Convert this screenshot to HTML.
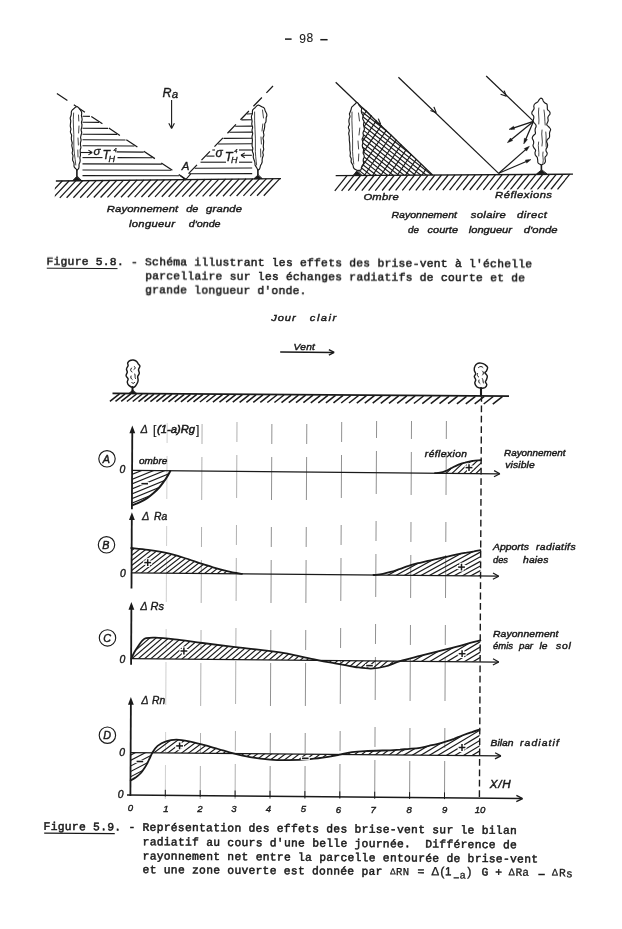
<!DOCTYPE html>
<html><head><meta charset="utf-8"><title>p98</title>
<style>html,body{margin:0;padding:0;background:#fff;}svg{display:block;filter:grayscale(1);}text{white-space:pre;}</style>
</head><body>
<svg width="622" height="929" viewBox="0 0 622 929">
<rect width="622" height="929" fill="#fff"/>
<defs><clipPath id="cgl"><rect x="54.8" y="170" width="240" height="40"/></clipPath>
<clipPath id="cshadow"><path d="M362.5 106.5L432.6 175L359 175.4Z"/></clipPath>
<clipPath id="cA"><path d="M132.2 505.3C133.4 504.8 137.0 503.6 139.5 502.4C142.0 501.2 144.8 499.7 147.2 498.1C149.6 496.5 151.8 494.7 153.9 492.8C156.0 490.9 157.9 489.0 159.7 487.0C161.5 485.0 163.1 482.6 164.5 480.7C165.9 478.8 166.9 477.0 167.9 475.4C168.9 473.8 169.9 471.7 170.3 471.0L170.3 470.8L132.0 470.4Z"/></clipPath>
<clipPath id="cR"><path d="M435.0 473.2C435.8 473.1 438.2 473.1 440.0 472.7C441.8 472.4 443.5 471.9 445.5 471.1C447.5 470.3 449.9 468.8 452.0 467.8C454.1 466.7 455.8 465.7 458.0 464.8C460.2 463.9 462.5 463.2 465.0 462.6C467.5 461.9 470.3 461.4 473.0 460.9C475.7 460.5 479.7 460.3 481.0 460.1L481.0 473.6L435.0 473.2Z"/></clipPath>
<clipPath id="cB"><path d="M131.2 548.0C134.0 548.3 142.2 549.0 148.0 549.8C153.8 550.6 160.4 551.6 166.2 552.9C172.0 554.2 177.0 555.7 183.0 557.5C189.0 559.3 197.2 562.2 202.2 563.8C207.2 565.4 209.2 566.2 213.0 567.3C216.8 568.4 221.5 569.7 225.0 570.6C228.5 571.5 231.2 572.2 234.0 572.7C236.8 573.2 240.7 573.6 242.0 573.8L131.2 572.8Z"/></clipPath>
<clipPath id="cB2"><path d="M373.5 575.0C375.1 574.8 379.9 574.5 383.0 573.9C386.1 573.3 389.2 572.4 392.0 571.6C394.8 570.8 397.2 569.8 400.0 568.9C402.8 567.9 405.6 566.7 408.6 565.8C411.6 564.8 414.8 564.0 418.0 563.2C421.2 562.4 424.7 561.7 427.9 560.9C431.1 560.2 434.0 559.5 437.0 558.8C440.0 558.1 442.6 557.6 445.8 556.9C449.0 556.2 452.6 555.4 456.0 554.7C459.4 554.0 463.5 553.2 466.5 552.7C469.5 552.1 471.7 551.8 474.0 551.4C476.3 550.9 479.3 550.4 480.4 550.2L480.4 576.0L373.5 575.0Z"/></clipPath>
<clipPath id="cCl"><rect x="120" y="620" width="279.5" height="60"/></clipPath>
<clipPath id="cCr"><rect x="399.5" y="620" width="100" height="60"/></clipPath>
<clipPath id="cC"><path d="M131.3 658.6C131.8 657.5 133.3 654.2 134.5 652.0C135.7 649.8 137.4 647.4 138.7 645.5C140.0 643.6 141.1 641.8 142.3 640.6C143.6 639.4 144.0 638.7 146.2 638.2C148.4 637.7 150.5 637.4 155.3 637.6C160.1 637.8 166.9 638.5 174.8 639.4C182.7 640.3 191.6 641.6 202.5 643.0C213.4 644.3 227.1 646.0 240.0 647.6C252.9 649.2 270.0 650.9 280.0 652.4C290.0 653.8 293.6 655.0 300.0 656.4C306.4 657.7 312.8 659.2 318.6 660.3C324.4 661.5 328.9 662.2 335.0 663.3C341.1 664.4 349.0 666.1 355.0 667.0C361.0 667.8 366.0 668.7 371.0 668.6C376.0 668.5 380.2 667.8 385.0 666.5C389.8 665.3 394.2 662.9 400.0 661.1C405.8 659.3 413.3 657.6 420.0 655.9C426.7 654.2 433.3 652.5 440.0 650.8C446.7 649.2 453.3 647.6 460.0 645.8C466.7 644.1 477.0 641.2 480.4 640.3L480.4 661.8L131.3 658.6Z"/></clipPath>
<clipPath id="cC2"><path d="M131.3 658.6C131.8 657.5 133.3 654.2 134.5 652.0C135.7 649.8 137.4 647.4 138.7 645.5C140.0 643.6 141.1 641.8 142.3 640.6C143.6 639.4 144.0 638.7 146.2 638.2C148.4 637.7 150.5 637.4 155.3 637.6C160.1 637.8 166.9 638.5 174.8 639.4C182.7 640.3 191.6 641.6 202.5 643.0C213.4 644.3 227.1 646.0 240.0 647.6C252.9 649.2 270.0 650.9 280.0 652.4C290.0 653.8 293.6 655.0 300.0 656.4C306.4 657.7 312.8 659.2 318.6 660.3C324.4 661.5 328.9 662.2 335.0 663.3C341.1 664.4 349.0 666.1 355.0 667.0C361.0 667.8 366.0 668.7 371.0 668.6C376.0 668.5 380.2 667.8 385.0 666.5C389.8 665.3 394.2 662.9 400.0 661.1C405.8 659.3 413.3 657.6 420.0 655.9C426.7 654.2 433.3 652.5 440.0 650.8C446.7 649.2 453.3 647.6 460.0 645.8C466.7 644.1 477.0 641.2 480.4 640.3L480.4 661.8L131.3 658.6Z"/></clipPath>
<clipPath id="cDn"><path d="M130.7 780.5C131.6 780.0 134.3 778.5 136.0 777.3C137.7 776.0 139.5 774.5 140.9 773.0C142.3 771.5 143.4 769.6 144.5 768.0C145.6 766.4 146.3 765.1 147.2 763.5C148.0 761.9 148.7 760.3 149.6 758.5C150.5 756.7 151.9 753.7 152.4 752.7L130.7 752.5Z"/></clipPath>
<clipPath id="cDl"><rect x="120" y="700" width="282" height="80"/></clipPath>
<clipPath id="cDr"><rect x="402" y="700" width="100" height="80"/></clipPath>
<clipPath id="cD"><path d="M152.4 752.7C153.3 751.6 155.3 747.8 157.6 745.9C159.9 744.0 162.9 742.3 166.0 741.3C169.1 740.2 172.6 739.6 176.4 739.6C180.2 739.6 184.5 740.4 189.0 741.3C193.5 742.2 198.7 743.6 203.6 744.9C208.5 746.2 213.2 747.6 218.2 749.0C223.2 750.4 228.2 752.1 233.5 753.4C238.8 754.8 243.9 756.1 250.0 757.1C256.1 758.1 263.6 759.1 270.0 759.6C276.4 760.1 281.8 760.2 288.5 760.1C295.2 760.1 303.4 759.7 310.0 759.1C316.6 758.6 322.8 757.7 328.0 756.9C333.2 756.1 337.0 755.2 341.0 754.4C345.0 753.6 348.0 752.7 352.0 752.1C356.0 751.6 358.7 751.4 365.0 751.1C371.3 750.7 384.2 750.5 390.0 750.3C395.8 750.0 396.8 749.8 400.0 749.6C403.2 749.3 406.1 749.2 409.4 748.9C412.7 748.6 416.7 748.3 420.0 747.8C423.3 747.3 426.2 746.4 429.0 745.8C431.8 745.2 434.2 744.8 437.0 744.1C439.8 743.4 442.8 742.6 445.6 741.7C448.4 740.8 451.2 739.9 454.0 738.9C456.8 737.8 459.4 736.6 462.2 735.5C465.0 734.5 468.1 733.4 471.0 732.4C473.9 731.5 478.1 730.2 479.5 729.7L480.0 755.7L152.4 752.7Z"/></clipPath>
<clipPath id="cD2"><path d="M152.4 752.7C153.3 751.6 155.3 747.8 157.6 745.9C159.9 744.0 162.9 742.3 166.0 741.3C169.1 740.2 172.6 739.6 176.4 739.6C180.2 739.6 184.5 740.4 189.0 741.3C193.5 742.2 198.7 743.6 203.6 744.9C208.5 746.2 213.2 747.6 218.2 749.0C223.2 750.4 228.2 752.1 233.5 753.4C238.8 754.8 243.9 756.1 250.0 757.1C256.1 758.1 263.6 759.1 270.0 759.6C276.4 760.1 281.8 760.2 288.5 760.1C295.2 760.1 303.4 759.7 310.0 759.1C316.6 758.6 322.8 757.7 328.0 756.9C333.2 756.1 337.0 755.2 341.0 754.4C345.0 753.6 348.0 752.7 352.0 752.1C356.0 751.6 358.7 751.4 365.0 751.1C371.3 750.7 384.2 750.5 390.0 750.3C395.8 750.0 396.8 749.8 400.0 749.6C403.2 749.3 406.1 749.2 409.4 748.9C412.7 748.6 416.7 748.3 420.0 747.8C423.3 747.3 426.2 746.4 429.0 745.8C431.8 745.2 434.2 744.8 437.0 744.1C439.8 743.4 442.8 742.6 445.6 741.7C448.4 740.8 451.2 739.9 454.0 738.9C456.8 737.8 459.4 736.6 462.2 735.5C465.0 734.5 468.1 733.4 471.0 732.4C473.9 731.5 478.1 730.2 479.5 729.7L480.0 755.7L152.4 752.7Z"/></clipPath></defs>
<g opacity="0.999">
<line x1="285.0" y1="39.1" x2="291.6" y2="39.1" stroke="#1a1a1a" stroke-width="1.50" />
<line x1="320.3" y1="39.7" x2="327.6" y2="39.7" stroke="#1a1a1a" stroke-width="1.50" />
<text x="299.2" y="43.2" style="font-family:'Liberation Sans',sans-serif;font-size:12.00px;font-weight:normal" fill="#1a1a1a" stroke="#1a1a1a" stroke-width="0.10" >9</text>
<text x="306.6" y="41.8" style="font-family:'Liberation Sans',sans-serif;font-size:12.00px;font-weight:normal" fill="#1a1a1a" stroke="#1a1a1a" stroke-width="0.10" >8</text>
<line x1="55.9" y1="181.0" x2="281.0" y2="178.6" stroke="#1a1a1a" stroke-width="1.40" />
<g clip-path="url(#cgl)">
<line x1="62.4" y1="180.7" x2="46.2" y2="198.0" stroke="#1a1a1a" stroke-width="1.25" />
<line x1="69.2" y1="180.7" x2="53.0" y2="198.0" stroke="#1a1a1a" stroke-width="1.25" />
<line x1="76.0" y1="180.6" x2="59.8" y2="197.9" stroke="#1a1a1a" stroke-width="1.25" />
<line x1="82.8" y1="180.5" x2="66.6" y2="197.8" stroke="#1a1a1a" stroke-width="1.25" />
<line x1="89.6" y1="180.4" x2="73.4" y2="197.7" stroke="#1a1a1a" stroke-width="1.25" />
<line x1="96.4" y1="180.4" x2="80.2" y2="197.7" stroke="#1a1a1a" stroke-width="1.25" />
<line x1="103.2" y1="180.3" x2="87.0" y2="197.6" stroke="#1a1a1a" stroke-width="1.25" />
<line x1="110.0" y1="180.2" x2="93.8" y2="197.5" stroke="#1a1a1a" stroke-width="1.25" />
<line x1="116.8" y1="180.2" x2="100.6" y2="197.5" stroke="#1a1a1a" stroke-width="1.25" />
<line x1="123.6" y1="180.1" x2="107.4" y2="197.4" stroke="#1a1a1a" stroke-width="1.25" />
<line x1="130.4" y1="180.0" x2="114.2" y2="197.3" stroke="#1a1a1a" stroke-width="1.25" />
<line x1="137.2" y1="179.9" x2="121.0" y2="197.2" stroke="#1a1a1a" stroke-width="1.25" />
<line x1="144.0" y1="179.9" x2="127.8" y2="197.2" stroke="#1a1a1a" stroke-width="1.25" />
<line x1="150.8" y1="179.8" x2="134.6" y2="197.1" stroke="#1a1a1a" stroke-width="1.25" />
<line x1="157.6" y1="179.7" x2="141.4" y2="197.0" stroke="#1a1a1a" stroke-width="1.25" />
<line x1="164.4" y1="179.7" x2="148.2" y2="197.0" stroke="#1a1a1a" stroke-width="1.25" />
<line x1="171.2" y1="179.6" x2="155.0" y2="196.9" stroke="#1a1a1a" stroke-width="1.25" />
<line x1="178.0" y1="179.5" x2="161.8" y2="196.8" stroke="#1a1a1a" stroke-width="1.25" />
<line x1="184.8" y1="179.4" x2="168.6" y2="196.7" stroke="#1a1a1a" stroke-width="1.25" />
<line x1="191.6" y1="179.4" x2="175.4" y2="196.7" stroke="#1a1a1a" stroke-width="1.25" />
<line x1="198.4" y1="179.3" x2="182.2" y2="196.6" stroke="#1a1a1a" stroke-width="1.25" />
<line x1="205.2" y1="179.2" x2="189.0" y2="196.5" stroke="#1a1a1a" stroke-width="1.25" />
<line x1="212.0" y1="179.1" x2="195.8" y2="196.4" stroke="#1a1a1a" stroke-width="1.25" />
<line x1="218.8" y1="179.1" x2="202.6" y2="196.4" stroke="#1a1a1a" stroke-width="1.25" />
<line x1="225.6" y1="179.0" x2="209.4" y2="196.3" stroke="#1a1a1a" stroke-width="1.25" />
<line x1="232.4" y1="178.9" x2="216.2" y2="196.2" stroke="#1a1a1a" stroke-width="1.25" />
<line x1="239.2" y1="178.9" x2="223.0" y2="196.2" stroke="#1a1a1a" stroke-width="1.25" />
<line x1="246.0" y1="178.8" x2="229.8" y2="196.1" stroke="#1a1a1a" stroke-width="1.25" />
<line x1="252.8" y1="178.7" x2="236.6" y2="196.0" stroke="#1a1a1a" stroke-width="1.25" />
<line x1="259.6" y1="178.6" x2="243.4" y2="195.9" stroke="#1a1a1a" stroke-width="1.25" />
<line x1="266.4" y1="178.6" x2="250.2" y2="195.9" stroke="#1a1a1a" stroke-width="1.25" />
<line x1="273.2" y1="178.5" x2="257.0" y2="195.8" stroke="#1a1a1a" stroke-width="1.25" />
<line x1="280.0" y1="178.4" x2="263.8" y2="195.7" stroke="#1a1a1a" stroke-width="1.25" />
</g>
<line x1="56.9" y1="93.6" x2="186.0" y2="179.3" stroke="#1a1a1a" stroke-width="1.25" stroke-dasharray="13.3 7.7" stroke-dashoffset="0.7"/>
<line x1="273.0" y1="86.0" x2="183.5" y2="178.8" stroke="#1a1a1a" stroke-width="1.25" stroke-dasharray="12.2 6.5" stroke-dashoffset="2.7"/>
<line x1="82.5" y1="116.2" x2="89.9" y2="116.4" stroke="#1a1a1a" stroke-width="1.10" />
<line x1="82.5" y1="122.2" x2="99.0" y2="122.4" stroke="#1a1a1a" stroke-width="1.10" />
<line x1="82.5" y1="128.2" x2="108.0" y2="128.4" stroke="#1a1a1a" stroke-width="1.10" />
<line x1="82.5" y1="134.2" x2="117.0" y2="134.4" stroke="#1a1a1a" stroke-width="1.10" />
<line x1="82.5" y1="139.8" x2="125.5" y2="140.0" stroke="#1a1a1a" stroke-width="1.10" />
<line x1="82.5" y1="145.8" x2="134.5" y2="146.0" stroke="#1a1a1a" stroke-width="1.10" />
<line x1="116.5" y1="151.9" x2="143.7" y2="152.1" stroke="#1a1a1a" stroke-width="1.10" />
<line x1="82.5" y1="157.6" x2="102.5" y2="157.6" stroke="#1a1a1a" stroke-width="1.10" />
<line x1="117.5" y1="157.6" x2="152.3" y2="157.8" stroke="#1a1a1a" stroke-width="1.10" />
<line x1="82.5" y1="163.9" x2="161.8" y2="164.1" stroke="#1a1a1a" stroke-width="1.10" />
<line x1="82.5" y1="170.0" x2="171.0" y2="170.2" stroke="#1a1a1a" stroke-width="1.10" />
<line x1="82.5" y1="175.6" x2="179.4" y2="175.8" stroke="#1a1a1a" stroke-width="1.10" />
<line x1="247.0" y1="114.0" x2="252.2" y2="113.8" stroke="#1a1a1a" stroke-width="1.10" />
<line x1="241.4" y1="119.9" x2="252.2" y2="119.7" stroke="#1a1a1a" stroke-width="1.10" />
<line x1="235.2" y1="126.3" x2="252.2" y2="126.1" stroke="#1a1a1a" stroke-width="1.10" />
<line x1="229.4" y1="132.3" x2="252.2" y2="132.1" stroke="#1a1a1a" stroke-width="1.10" />
<line x1="223.5" y1="138.4" x2="252.2" y2="138.2" stroke="#1a1a1a" stroke-width="1.10" />
<line x1="218.1" y1="144.0" x2="252.2" y2="143.8" stroke="#1a1a1a" stroke-width="1.10" />
<line x1="212.3" y1="150.0" x2="215.0" y2="150.0" stroke="#1a1a1a" stroke-width="1.10" />
<line x1="239.0" y1="150.0" x2="252.2" y2="150.0" stroke="#1a1a1a" stroke-width="1.10" />
<line x1="206.4" y1="156.1" x2="214.5" y2="156.1" stroke="#1a1a1a" stroke-width="1.10" />
<line x1="200.5" y1="162.2" x2="226.0" y2="162.2" stroke="#1a1a1a" stroke-width="1.10" />
<line x1="239.0" y1="162.2" x2="252.2" y2="162.2" stroke="#1a1a1a" stroke-width="1.10" />
<line x1="194.7" y1="168.2" x2="252.2" y2="168.0" stroke="#1a1a1a" stroke-width="1.10" />
<line x1="189.3" y1="173.8" x2="252.2" y2="173.6" stroke="#1a1a1a" stroke-width="1.10" />
<path d="M180.5 175.8L185.5 179.8L190.5 174.2" fill="none" stroke="#1a1a1a" stroke-width="1.10" stroke-linejoin="round" stroke-linecap="round" />
<path d="M77.0 169.9C76.8 169.8 76.8 169.7 76.6 169.5C76.4 169.3 76.0 169.0 75.7 168.7C75.4 168.4 74.9 168.0 74.7 167.6C74.4 167.2 74.1 166.6 74.0 166.1C73.9 165.5 74.1 164.9 74.1 164.3C74.0 163.6 73.9 163.0 73.7 162.3C73.5 161.7 72.8 161.0 72.7 160.3C72.5 159.6 72.7 158.8 72.7 158.0C72.8 157.2 73.1 156.4 73.0 155.6C72.9 154.8 72.2 154.0 72.2 153.1C72.1 152.3 72.6 151.4 72.7 150.5C72.7 149.7 72.4 148.8 72.3 148.0C72.1 147.2 71.8 146.4 71.8 145.6C71.7 144.8 72.2 143.9 72.2 143.1C72.2 142.3 71.7 141.5 71.6 140.6C71.4 139.8 71.3 138.9 71.3 138.0C71.3 137.1 71.7 136.1 71.6 135.1C71.4 134.1 70.5 133.1 70.4 132.0C70.3 131.0 70.9 129.9 70.9 128.9C70.8 127.9 70.3 126.9 70.3 126.0C70.2 125.1 70.5 124.2 70.5 123.3C70.6 122.4 70.8 121.5 70.7 120.6C70.6 119.8 70.2 118.9 70.2 118.1C70.2 117.4 70.7 116.7 70.9 116.0C71.1 115.3 71.2 114.8 71.3 114.2C71.4 113.6 71.3 113.0 71.3 112.5C71.4 112.0 71.4 111.5 71.6 111.0C71.8 110.6 72.1 110.3 72.4 109.9C72.7 109.6 73.0 109.4 73.3 109.1C73.6 108.9 73.8 108.7 74.1 108.5C74.3 108.2 74.5 108.0 74.8 107.8C75.0 107.6 75.2 107.4 75.5 107.2C75.7 107.1 76.0 106.9 76.4 106.8C76.7 106.8 77.1 106.7 77.4 106.8C77.7 106.9 78.0 107.2 78.2 107.4C78.5 107.6 78.7 107.9 78.9 108.1C79.1 108.3 79.2 108.6 79.4 108.9C79.6 109.2 79.9 109.4 80.1 109.7C80.3 109.9 80.5 110.3 80.7 110.7C81.0 111.0 81.3 111.4 81.5 111.9C81.6 112.4 81.7 113.0 81.7 113.7C81.7 114.3 81.4 115.0 81.4 115.6C81.4 116.3 81.8 117.0 81.9 117.8C82.0 118.5 82.2 119.2 82.1 120.0C82.0 120.8 81.5 121.5 81.5 122.3C81.4 123.2 81.9 124.0 81.9 124.9C82.0 125.7 81.8 126.6 81.7 127.5C81.6 128.3 81.1 129.1 81.1 130.0C81.1 130.8 81.7 131.7 81.7 132.5C81.7 133.4 81.3 134.2 81.1 135.0C80.9 135.8 80.6 136.6 80.6 137.5C80.6 138.3 81.1 139.2 81.1 140.0C81.1 140.9 80.6 141.7 80.5 142.5C80.4 143.3 80.4 144.2 80.5 145.0C80.5 145.8 81.0 146.7 80.9 147.5C80.9 148.3 80.3 149.1 80.2 150.0C80.1 150.8 80.3 151.7 80.3 152.6C80.4 153.4 80.5 154.3 80.5 155.2C80.4 156.0 79.9 156.9 79.9 157.7C79.8 158.5 80.2 159.3 80.2 160.0C80.2 160.7 80.1 161.4 79.9 162.1C79.8 162.7 79.3 163.3 79.2 163.9C79.0 164.4 79.0 165.0 79.0 165.5C79.0 166.1 79.1 166.6 79.0 167.1C79.0 167.5 78.9 168.0 78.7 168.4C78.5 168.7 78.2 169.1 78.0 169.3C77.7 169.6 77.5 169.8 77.3 169.9C77.1 170.0 77.1 169.9 77.0 169.9Z" fill="#fff" stroke="#1a1a1a" stroke-width="1.15" stroke-linejoin="round" stroke-linecap="round" />
<path d="M73.6 113C72.6 122 74.2 132 73.8 142C73.4 150 75.2 158 75.8 165" fill="none" stroke="#1a1a1a" stroke-width="0.80" stroke-linejoin="round" stroke-linecap="round" />
<path d="M78.5 115L78.8 121M79 126L78.6 133M78 138L78.4 145M77.8 150L78 157" fill="none" stroke="#1a1a1a" stroke-width="0.80" stroke-linejoin="round" stroke-linecap="round" />
<path d="M76.9 170L76.9 176" fill="none" stroke="#1a1a1a" stroke-width="1.60" stroke-linejoin="round" stroke-linecap="round" />
<path d="M76.9 176.3L72.9 180.4L80.9 180.3Z" fill="#1a1a1a" stroke="#1a1a1a" stroke-width="0.90" stroke-linejoin="round" stroke-linecap="round" />
<path d="M257.9 169.8C257.6 169.6 257.5 169.2 257.2 168.7C256.9 168.3 256.6 167.7 256.3 167.1C255.9 166.4 255.3 165.7 255.1 165.0C254.9 164.2 255.1 163.3 254.9 162.4C254.8 161.6 254.4 160.9 254.1 160.0C253.8 159.1 253.4 158.2 253.3 157.2C253.2 156.2 253.5 155.1 253.4 154.1C253.2 153.2 252.5 152.2 252.4 151.3C252.3 150.4 252.9 149.4 252.8 148.5C252.8 147.5 252.2 146.7 252.1 145.8C252.1 144.8 252.2 143.9 252.2 142.9C252.3 142.0 252.5 141.0 252.4 140.0C252.4 139.0 252.0 137.9 252.0 136.9C252.0 135.8 252.7 134.7 252.7 133.6C252.7 132.5 252.0 131.4 252.0 130.3C252.0 129.2 252.7 128.2 252.6 127.1C252.6 126.1 251.8 125.2 251.8 124.2C251.7 123.2 252.1 122.1 252.1 121.2C252.0 120.2 251.7 119.3 251.6 118.4C251.4 117.5 251.3 116.6 251.5 115.9C251.6 115.1 252.2 114.5 252.4 113.8C252.5 113.1 252.4 112.4 252.4 111.8C252.5 111.1 252.5 110.5 252.7 109.9C253.0 109.4 253.5 109.1 253.9 108.7C254.3 108.3 254.7 108.0 255.1 107.7C255.5 107.3 255.8 106.9 256.1 106.5C256.5 106.1 256.8 105.6 257.2 105.4C257.7 105.1 258.2 105.0 258.7 105.1C259.2 105.2 259.6 105.6 260.1 105.8C260.5 106.1 261.0 106.4 261.5 106.6C262.1 106.9 262.7 107.0 263.2 107.3C263.7 107.6 264.2 108.0 264.5 108.5C264.8 109.0 264.8 109.7 265.0 110.3C265.3 110.9 265.5 111.4 265.8 112.0C266.1 112.6 266.5 113.3 266.7 113.9C266.8 114.5 266.9 115.3 266.8 115.9C266.7 116.5 266.3 117.1 266.2 117.7C266.1 118.3 266.1 119.0 266.1 119.6C266.0 120.3 266.1 121.0 265.9 121.8C265.7 122.5 265.0 123.1 264.8 123.9C264.6 124.7 264.8 125.6 264.7 126.5C264.6 127.5 264.5 128.4 264.2 129.4C264.0 130.3 263.5 131.3 263.4 132.3C263.4 133.2 264.0 134.3 263.9 135.2C263.9 136.2 263.1 137.1 263.0 138.0C263.0 138.9 263.5 139.9 263.6 140.8C263.7 141.8 263.6 142.7 263.5 143.6C263.5 144.6 263.3 145.5 263.3 146.4C263.3 147.4 263.8 148.4 263.7 149.4C263.6 150.3 262.9 151.3 262.8 152.2C262.7 153.2 263.3 154.2 263.3 155.1C263.3 156.0 262.7 156.9 262.5 157.7C262.3 158.5 262.2 159.2 262.1 160.0C262.1 160.8 262.3 161.6 262.1 162.2C262.0 162.9 261.6 163.5 261.3 164.1C261.0 164.6 260.7 165.1 260.5 165.6C260.3 166.2 260.2 166.7 260.1 167.3C260.0 167.8 259.8 168.4 259.6 168.8C259.4 169.3 259.0 169.6 258.7 169.8C258.5 169.9 258.1 169.9 257.9 169.8Z" fill="#fff" stroke="#1a1a1a" stroke-width="1.15" stroke-linejoin="round" stroke-linecap="round" />
<path d="M254.6 112C254.2 124 255.8 136 255.4 146C255 154 256.2 160 256.6 165" fill="none" stroke="#1a1a1a" stroke-width="0.80" stroke-linejoin="round" stroke-linecap="round" />
<path d="M262.5 110L263.5 118M262.8 124L262 131M261 137L261.4 144M260.6 149L260.8 157" fill="none" stroke="#1a1a1a" stroke-width="0.80" stroke-linejoin="round" stroke-linecap="round" />
<path d="M257.9 169.8L257.9 175" fill="none" stroke="#1a1a1a" stroke-width="1.60" stroke-linejoin="round" stroke-linecap="round" />
<path d="M257.9 175L254 178.7L261.9 178.6Z" fill="#1a1a1a" stroke="#1a1a1a" stroke-width="0.90" stroke-linejoin="round" stroke-linecap="round" />
<text x="162.5" y="96.6" style="font-family:'Liberation Sans',sans-serif;font-size:12.50px;font-style:italic;font-weight:normal" fill="#1a1a1a" stroke="#1a1a1a" stroke-width="0.35" >R</text>
<text x="171.8" y="98.2" style="font-family:'Liberation Sans',sans-serif;font-size:11.50px;font-style:italic;font-weight:normal" fill="#1a1a1a" stroke="#1a1a1a" stroke-width="0.35" >a</text>
<line x1="171.6" y1="100.0" x2="171.6" y2="128.0" stroke="#1a1a1a" stroke-width="1.10" />
<line x1="171.6" y1="128.5" x2="168.8" y2="123.2" stroke="#1a1a1a" stroke-width="1.10" />
<line x1="171.6" y1="128.5" x2="174.4" y2="123.2" stroke="#1a1a1a" stroke-width="1.10" />
<line x1="80.5" y1="152.5" x2="91.5" y2="152.5" stroke="#1a1a1a" stroke-width="1.10" />
<line x1="92.2" y1="152.5" x2="88.4" y2="154.9" stroke="#1a1a1a" stroke-width="1.10" />
<line x1="92.2" y1="152.5" x2="88.4" y2="150.1" stroke="#1a1a1a" stroke-width="1.10" />
<text x="93.5" y="154.9" style="font-family:'Liberation Sans',sans-serif;font-size:11.50px;font-style:italic;font-weight:normal" fill="#1a1a1a" stroke="#1a1a1a" stroke-width="0.35" >σ</text>
<text x="102.5" y="158.6" style="font-family:'Liberation Sans',sans-serif;font-size:12.20px;font-style:italic;font-weight:normal" fill="#1a1a1a" stroke="#1a1a1a" stroke-width="0.35" >T</text>
<text x="108.6" y="162.0" style="font-family:'Liberation Sans',sans-serif;font-size:9.00px;font-style:italic;font-weight:normal" fill="#1a1a1a" stroke="#1a1a1a" stroke-width="0.30" >H</text>
<text x="113.4" y="151.6" style="font-family:'Liberation Sans',sans-serif;font-size:5.80px;font-style:italic;font-weight:normal" fill="#1a1a1a" stroke="#1a1a1a" stroke-width="0.25" >4</text>
<text x="215.5" y="157.0" style="font-family:'Liberation Sans',sans-serif;font-size:12.00px;font-style:italic;font-weight:normal" fill="#1a1a1a" stroke="#1a1a1a" stroke-width="0.35" >σ</text>
<text x="224.8" y="160.8" style="font-family:'Liberation Sans',sans-serif;font-size:12.80px;font-style:italic;font-weight:normal" fill="#1a1a1a" stroke="#1a1a1a" stroke-width="0.35" >T</text>
<text x="231.0" y="163.4" style="font-family:'Liberation Sans',sans-serif;font-size:9.00px;font-style:italic;font-weight:normal" fill="#1a1a1a" stroke="#1a1a1a" stroke-width="0.30" >H</text>
<text x="234.2" y="153.3" style="font-family:'Liberation Sans',sans-serif;font-size:5.80px;font-style:italic;font-weight:normal" fill="#1a1a1a" stroke="#1a1a1a" stroke-width="0.25" >4</text>
<line x1="241.5" y1="155.3" x2="251.8" y2="155.3" stroke="#1a1a1a" stroke-width="1.10" />
<line x1="241.0" y1="155.3" x2="244.8" y2="152.9" stroke="#1a1a1a" stroke-width="1.10" />
<line x1="241.0" y1="155.3" x2="244.8" y2="157.7" stroke="#1a1a1a" stroke-width="1.10" />
<text x="181.8" y="170.0" style="font-family:'Liberation Sans',sans-serif;font-size:11.50px;font-style:italic;font-weight:normal" fill="#1a1a1a" stroke="#1a1a1a" stroke-width="0.35" >A</text>
<text x="106.8" y="211.9" style="font-family:'Liberation Sans',sans-serif;font-size:9.70px;font-style:italic;font-weight:normal;letter-spacing:0.12px" fill="#1a1a1a" textLength="71.6" lengthAdjust="spacingAndGlyphs" stroke="#1a1a1a" stroke-width="0.42" >Rayonnement</text>
<text x="186.3" y="211.9" style="font-family:'Liberation Sans',sans-serif;font-size:9.70px;font-style:italic;font-weight:normal;letter-spacing:0.00px" fill="#1a1a1a" textLength="12.1" lengthAdjust="spacingAndGlyphs" stroke="#1a1a1a" stroke-width="0.42" >de</text>
<text x="206.0" y="211.9" style="font-family:'Liberation Sans',sans-serif;font-size:9.70px;font-style:italic;font-weight:normal;letter-spacing:0.18px" fill="#1a1a1a" textLength="36.3" lengthAdjust="spacingAndGlyphs" stroke="#1a1a1a" stroke-width="0.42" >grande</text>
<text x="129.0" y="226.8" style="font-family:'Liberation Sans',sans-serif;font-size:9.70px;font-style:italic;font-weight:normal;letter-spacing:0.26px" fill="#1a1a1a" textLength="46.2" lengthAdjust="spacingAndGlyphs" stroke="#1a1a1a" stroke-width="0.42" >longueur</text>
<text x="188.7" y="226.8" style="font-family:'Liberation Sans',sans-serif;font-size:9.70px;font-style:italic;font-weight:normal;letter-spacing:0.00px" fill="#1a1a1a" textLength="31.9" lengthAdjust="spacingAndGlyphs" stroke="#1a1a1a" stroke-width="0.42" >d'onde</text>
<line x1="335.7" y1="175.7" x2="573.0" y2="174.2" stroke="#1a1a1a" stroke-width="1.30" />
<line x1="347.0" y1="175.6" x2="334.8" y2="190.8" stroke="#1a1a1a" stroke-width="1.25" />
<line x1="353.8" y1="175.6" x2="341.6" y2="190.8" stroke="#1a1a1a" stroke-width="1.25" />
<line x1="360.5" y1="175.5" x2="348.3" y2="190.7" stroke="#1a1a1a" stroke-width="1.25" />
<line x1="367.2" y1="175.5" x2="355.1" y2="190.7" stroke="#1a1a1a" stroke-width="1.25" />
<line x1="374.0" y1="175.5" x2="361.8" y2="190.7" stroke="#1a1a1a" stroke-width="1.25" />
<line x1="380.8" y1="175.4" x2="368.6" y2="190.6" stroke="#1a1a1a" stroke-width="1.25" />
<line x1="387.5" y1="175.4" x2="375.3" y2="190.6" stroke="#1a1a1a" stroke-width="1.25" />
<line x1="394.2" y1="175.3" x2="382.1" y2="190.5" stroke="#1a1a1a" stroke-width="1.25" />
<line x1="401.0" y1="175.3" x2="388.8" y2="190.5" stroke="#1a1a1a" stroke-width="1.25" />
<line x1="407.8" y1="175.2" x2="395.6" y2="190.4" stroke="#1a1a1a" stroke-width="1.25" />
<line x1="414.5" y1="175.2" x2="402.3" y2="190.4" stroke="#1a1a1a" stroke-width="1.25" />
<line x1="421.2" y1="175.2" x2="409.1" y2="190.4" stroke="#1a1a1a" stroke-width="1.25" />
<line x1="428.0" y1="175.1" x2="415.8" y2="190.3" stroke="#1a1a1a" stroke-width="1.25" />
<line x1="434.8" y1="175.1" x2="422.6" y2="190.3" stroke="#1a1a1a" stroke-width="1.25" />
<line x1="441.5" y1="175.0" x2="429.3" y2="190.2" stroke="#1a1a1a" stroke-width="1.25" />
<line x1="448.2" y1="175.0" x2="436.1" y2="190.2" stroke="#1a1a1a" stroke-width="1.25" />
<line x1="455.0" y1="174.9" x2="442.8" y2="190.1" stroke="#1a1a1a" stroke-width="1.25" />
<line x1="461.8" y1="174.9" x2="449.6" y2="190.1" stroke="#1a1a1a" stroke-width="1.25" />
<line x1="468.5" y1="174.9" x2="456.3" y2="190.1" stroke="#1a1a1a" stroke-width="1.25" />
<line x1="475.2" y1="174.8" x2="463.1" y2="190.0" stroke="#1a1a1a" stroke-width="1.25" />
<line x1="482.0" y1="174.8" x2="469.8" y2="190.0" stroke="#1a1a1a" stroke-width="1.25" />
<line x1="488.8" y1="174.7" x2="476.6" y2="189.9" stroke="#1a1a1a" stroke-width="1.25" />
<line x1="495.5" y1="174.7" x2="483.3" y2="189.9" stroke="#1a1a1a" stroke-width="1.25" />
<line x1="502.2" y1="174.7" x2="490.1" y2="189.9" stroke="#1a1a1a" stroke-width="1.25" />
<line x1="509.0" y1="174.6" x2="496.8" y2="189.8" stroke="#1a1a1a" stroke-width="1.25" />
<line x1="515.8" y1="174.6" x2="503.6" y2="189.8" stroke="#1a1a1a" stroke-width="1.25" />
<line x1="522.5" y1="174.5" x2="510.3" y2="189.7" stroke="#1a1a1a" stroke-width="1.25" />
<line x1="529.2" y1="174.5" x2="517.0" y2="189.7" stroke="#1a1a1a" stroke-width="1.25" />
<line x1="536.0" y1="174.4" x2="523.8" y2="189.6" stroke="#1a1a1a" stroke-width="1.25" />
<line x1="542.8" y1="174.4" x2="530.5" y2="189.6" stroke="#1a1a1a" stroke-width="1.25" />
<line x1="549.5" y1="174.4" x2="537.3" y2="189.6" stroke="#1a1a1a" stroke-width="1.25" />
<line x1="556.2" y1="174.3" x2="544.0" y2="189.5" stroke="#1a1a1a" stroke-width="1.25" />
<line x1="563.0" y1="174.3" x2="550.8" y2="189.5" stroke="#1a1a1a" stroke-width="1.25" />
<line x1="569.8" y1="174.2" x2="557.5" y2="189.4" stroke="#1a1a1a" stroke-width="1.25" />
<rect x="361" y="191.5" width="40" height="10" fill="#fff"/>
<rect x="493" y="189.5" width="61" height="10" fill="#fff"/>
<line x1="335.7" y1="82.2" x2="432.6" y2="175.0" stroke="#1a1a1a" stroke-width="1.25" />
<line x1="380.6" y1="124.3" x2="374.8" y2="122.2" stroke="#1a1a1a" stroke-width="1.20" />
<line x1="380.6" y1="124.3" x2="378.3" y2="118.6" stroke="#1a1a1a" stroke-width="1.20" />
<line x1="398.4" y1="77.2" x2="498.9" y2="173.6" stroke="#1a1a1a" stroke-width="1.25" />
<line x1="436.2" y1="112.6" x2="430.4" y2="110.5" stroke="#1a1a1a" stroke-width="1.20" />
<line x1="436.2" y1="112.6" x2="433.9" y2="106.9" stroke="#1a1a1a" stroke-width="1.20" />
<line x1="486.2" y1="76.0" x2="533.6" y2="121.4" stroke="#1a1a1a" stroke-width="1.25" />
<line x1="506.4" y1="96.3" x2="500.6" y2="94.2" stroke="#1a1a1a" stroke-width="1.20" />
<line x1="506.4" y1="96.3" x2="504.1" y2="90.6" stroke="#1a1a1a" stroke-width="1.20" />
<line x1="533.4" y1="121.4" x2="510.9" y2="128.8" stroke="#1a1a1a" stroke-width="1.25" />
<path d="M509.0 129.4L513.6 126.2L514.6 129.3Z" fill="#1a1a1a" stroke="#1a1a1a" stroke-width="0.5" stroke-linejoin="round"/>
<line x1="533.4" y1="121.4" x2="508.9" y2="141.4" stroke="#1a1a1a" stroke-width="1.25" />
<path d="M507.4 142.7L510.5 138.0L512.6 140.6Z" fill="#1a1a1a" stroke="#1a1a1a" stroke-width="0.5" stroke-linejoin="round"/>
<line x1="533.4" y1="121.4" x2="524.6" y2="142.1" stroke="#1a1a1a" stroke-width="1.25" />
<path d="M523.8 143.9L524.4 138.3L527.4 139.6Z" fill="#1a1a1a" stroke="#1a1a1a" stroke-width="0.5" stroke-linejoin="round"/>
<line x1="498.8" y1="173.3" x2="527.9" y2="147.6" stroke="#1a1a1a" stroke-width="1.25" />
<path d="M529.4 146.3L526.5 151.1L524.3 148.6Z" fill="#1a1a1a" stroke="#1a1a1a" stroke-width="0.5" stroke-linejoin="round"/>
<line x1="498.8" y1="173.3" x2="529.2" y2="160.3" stroke="#1a1a1a" stroke-width="1.25" />
<path d="M531.0 159.5L526.7 163.1L525.4 160.1Z" fill="#1a1a1a" stroke="#1a1a1a" stroke-width="0.5" stroke-linejoin="round"/>
<g clip-path="url(#cshadow)">
<line x1="358.0" y1="47.8" x2="438.0" y2="110.2" stroke="#1a1a1a" stroke-width="1.15" />
<line x1="358.0" y1="52.2" x2="438.0" y2="114.6" stroke="#1a1a1a" stroke-width="1.15" />
<line x1="358.0" y1="56.5" x2="438.0" y2="118.9" stroke="#1a1a1a" stroke-width="1.15" />
<line x1="358.0" y1="60.9" x2="438.0" y2="123.2" stroke="#1a1a1a" stroke-width="1.15" />
<line x1="358.0" y1="65.2" x2="438.0" y2="127.6" stroke="#1a1a1a" stroke-width="1.15" />
<line x1="358.0" y1="69.6" x2="438.0" y2="132.0" stroke="#1a1a1a" stroke-width="1.15" />
<line x1="358.0" y1="73.9" x2="438.0" y2="136.3" stroke="#1a1a1a" stroke-width="1.15" />
<line x1="358.0" y1="78.2" x2="438.0" y2="140.7" stroke="#1a1a1a" stroke-width="1.15" />
<line x1="358.0" y1="82.6" x2="438.0" y2="145.0" stroke="#1a1a1a" stroke-width="1.15" />
<line x1="358.0" y1="87.0" x2="438.0" y2="149.4" stroke="#1a1a1a" stroke-width="1.15" />
<line x1="358.0" y1="91.3" x2="438.0" y2="153.7" stroke="#1a1a1a" stroke-width="1.15" />
<line x1="358.0" y1="95.7" x2="438.0" y2="158.1" stroke="#1a1a1a" stroke-width="1.15" />
<line x1="358.0" y1="100.0" x2="438.0" y2="162.4" stroke="#1a1a1a" stroke-width="1.15" />
<line x1="358.0" y1="104.3" x2="438.0" y2="166.8" stroke="#1a1a1a" stroke-width="1.15" />
<line x1="358.0" y1="108.7" x2="438.0" y2="171.1" stroke="#1a1a1a" stroke-width="1.15" />
<line x1="358.0" y1="113.0" x2="438.0" y2="175.4" stroke="#1a1a1a" stroke-width="1.15" />
<line x1="358.0" y1="117.4" x2="438.0" y2="179.8" stroke="#1a1a1a" stroke-width="1.15" />
<line x1="358.0" y1="121.8" x2="438.0" y2="184.2" stroke="#1a1a1a" stroke-width="1.15" />
<line x1="358.0" y1="126.1" x2="438.0" y2="188.5" stroke="#1a1a1a" stroke-width="1.15" />
<line x1="358.0" y1="130.4" x2="438.0" y2="192.8" stroke="#1a1a1a" stroke-width="1.15" />
<line x1="358.0" y1="134.8" x2="438.0" y2="197.2" stroke="#1a1a1a" stroke-width="1.15" />
<line x1="358.0" y1="139.2" x2="438.0" y2="201.6" stroke="#1a1a1a" stroke-width="1.15" />
<line x1="358.0" y1="143.5" x2="438.0" y2="205.9" stroke="#1a1a1a" stroke-width="1.15" />
<line x1="358.0" y1="147.8" x2="438.0" y2="210.2" stroke="#1a1a1a" stroke-width="1.15" />
<line x1="358.0" y1="152.2" x2="438.0" y2="214.6" stroke="#1a1a1a" stroke-width="1.15" />
<line x1="358.0" y1="156.6" x2="438.0" y2="219.0" stroke="#1a1a1a" stroke-width="1.15" />
<line x1="358.0" y1="160.9" x2="438.0" y2="223.3" stroke="#1a1a1a" stroke-width="1.15" />
<line x1="358.0" y1="165.2" x2="438.0" y2="227.7" stroke="#1a1a1a" stroke-width="1.15" />
<line x1="358.0" y1="169.6" x2="438.0" y2="232.0" stroke="#1a1a1a" stroke-width="1.15" />
<line x1="358.0" y1="173.9" x2="438.0" y2="236.3" stroke="#1a1a1a" stroke-width="1.15" />
<line x1="358.0" y1="178.3" x2="438.0" y2="240.7" stroke="#1a1a1a" stroke-width="1.15" />
<line x1="358.0" y1="182.6" x2="438.0" y2="245.0" stroke="#1a1a1a" stroke-width="1.15" />
<line x1="358.0" y1="187.0" x2="438.0" y2="249.4" stroke="#1a1a1a" stroke-width="1.15" />
<line x1="358.0" y1="191.3" x2="438.0" y2="253.8" stroke="#1a1a1a" stroke-width="1.15" />
<line x1="358.0" y1="195.7" x2="438.0" y2="258.1" stroke="#1a1a1a" stroke-width="1.15" />
<line x1="358.0" y1="200.1" x2="438.0" y2="262.5" stroke="#1a1a1a" stroke-width="1.15" />
<line x1="298.4" y1="176.0" x2="358.4" y2="86.0" stroke="#1a1a1a" stroke-width="1.15" />
<line x1="306.6" y1="176.0" x2="366.6" y2="86.0" stroke="#1a1a1a" stroke-width="1.15" />
<line x1="314.8" y1="176.0" x2="374.8" y2="86.0" stroke="#1a1a1a" stroke-width="1.15" />
<line x1="323.0" y1="176.0" x2="383.0" y2="86.0" stroke="#1a1a1a" stroke-width="1.15" />
<line x1="331.2" y1="176.0" x2="391.2" y2="86.0" stroke="#1a1a1a" stroke-width="1.15" />
<line x1="339.4" y1="176.0" x2="399.4" y2="86.0" stroke="#1a1a1a" stroke-width="1.15" />
<line x1="347.6" y1="176.0" x2="407.6" y2="86.0" stroke="#1a1a1a" stroke-width="1.15" />
<line x1="355.8" y1="176.0" x2="415.8" y2="86.0" stroke="#1a1a1a" stroke-width="1.15" />
<line x1="364.0" y1="176.0" x2="424.0" y2="86.0" stroke="#1a1a1a" stroke-width="1.15" />
<line x1="372.2" y1="176.0" x2="432.2" y2="86.0" stroke="#1a1a1a" stroke-width="1.15" />
<line x1="380.4" y1="176.0" x2="440.4" y2="86.0" stroke="#1a1a1a" stroke-width="1.15" />
<line x1="388.6" y1="176.0" x2="448.6" y2="86.0" stroke="#1a1a1a" stroke-width="1.15" />
<line x1="396.8" y1="176.0" x2="456.8" y2="86.0" stroke="#1a1a1a" stroke-width="1.15" />
<line x1="405.0" y1="176.0" x2="465.0" y2="86.0" stroke="#1a1a1a" stroke-width="1.15" />
<line x1="413.2" y1="176.0" x2="473.2" y2="86.0" stroke="#1a1a1a" stroke-width="1.15" />
<line x1="421.4" y1="176.0" x2="481.4" y2="86.0" stroke="#1a1a1a" stroke-width="1.15" />
<line x1="429.6" y1="176.0" x2="489.6" y2="86.0" stroke="#1a1a1a" stroke-width="1.15" />
<line x1="437.8" y1="176.0" x2="497.8" y2="86.0" stroke="#1a1a1a" stroke-width="1.15" />
<line x1="446.0" y1="176.0" x2="506.0" y2="86.0" stroke="#1a1a1a" stroke-width="1.15" />
<line x1="454.2" y1="176.0" x2="514.2" y2="86.0" stroke="#1a1a1a" stroke-width="1.15" />
<line x1="462.4" y1="176.0" x2="522.4" y2="86.0" stroke="#1a1a1a" stroke-width="1.15" />
<line x1="470.6" y1="176.0" x2="530.6" y2="86.0" stroke="#1a1a1a" stroke-width="1.15" />
</g>
<path d="M357.1 170.2C356.8 170.0 356.4 169.9 356.0 169.7C355.6 169.5 355.0 169.4 354.6 169.0C354.2 168.6 353.8 168.1 353.5 167.6C353.3 167.0 353.3 166.3 353.1 165.6C352.9 165.0 352.4 164.4 352.1 163.8C351.7 163.1 351.3 162.3 351.1 161.5C351.0 160.7 351.4 159.7 351.3 158.8C351.1 157.9 350.3 157.1 350.1 156.1C350.0 155.2 350.4 154.1 350.4 153.1C350.3 152.0 350.0 151.0 349.9 149.9C349.8 148.8 349.9 147.6 349.9 146.5C349.8 145.4 349.8 144.3 349.7 143.2C349.6 142.1 349.4 141.1 349.3 140.0C349.2 138.9 349.4 137.8 349.3 136.7C349.2 135.6 348.7 134.5 348.7 133.5C348.7 132.4 349.4 131.4 349.3 130.4C349.3 129.3 348.4 128.4 348.4 127.4C348.4 126.4 349.3 125.5 349.4 124.6C349.5 123.6 349.0 122.7 348.9 121.8C348.9 120.9 348.9 120.0 349.1 119.1C349.3 118.2 350.0 117.4 350.0 116.6C350.1 115.7 349.4 114.8 349.4 113.9C349.5 113.1 350.1 112.4 350.3 111.6C350.6 110.9 350.9 110.3 351.1 109.5C351.3 108.8 351.3 107.9 351.7 107.2C352.1 106.5 352.9 106.0 353.5 105.5C354.0 105.0 354.6 104.6 355.0 104.1C355.4 103.7 355.6 103.1 356.0 102.9C356.5 102.7 357.1 102.6 357.5 102.8C357.9 103.1 358.1 103.7 358.5 104.2C358.8 104.6 359.0 105.2 359.3 105.7C359.7 106.2 360.2 106.6 360.6 107.1C361.0 107.6 361.6 108.1 361.7 108.8C361.8 109.4 361.3 110.3 361.3 111.1C361.3 111.9 361.6 112.7 361.9 113.4C362.2 114.2 362.9 114.9 363.0 115.8C363.1 116.7 362.5 117.7 362.7 118.7C362.8 119.6 363.8 120.5 364.0 121.5C364.1 122.5 363.5 123.6 363.5 124.6C363.6 125.5 363.9 126.3 364.1 127.2C364.2 128.0 364.5 128.7 364.4 129.4C364.3 130.1 363.7 130.7 363.5 131.3C363.3 132.0 363.0 132.5 363.0 133.2C363.0 133.8 363.4 134.6 363.4 135.2C363.4 135.9 363.2 136.6 363.0 137.2C362.8 137.9 362.2 138.5 362.1 139.2C362.1 139.8 362.5 140.6 362.6 141.2C362.7 141.9 362.8 142.5 362.8 143.2C362.8 143.9 362.4 144.6 362.3 145.3C362.3 146.0 362.4 146.6 362.6 147.3C362.8 148.0 363.4 148.6 363.6 149.2C363.7 149.9 363.4 150.6 363.4 151.3C363.3 152.0 363.0 152.7 363.2 153.3C363.3 154.0 364.0 154.7 364.1 155.3C364.3 156.0 364.2 156.7 364.1 157.4C363.9 158.0 363.4 158.6 363.3 159.3C363.2 159.9 363.2 160.5 363.3 161.2C363.3 161.9 363.7 162.7 363.6 163.3C363.4 164.0 362.9 164.5 362.6 165.0C362.3 165.5 362.0 166.0 361.8 166.4C361.6 166.8 361.5 167.2 361.4 167.5C361.3 167.9 361.4 168.3 361.4 168.6C361.3 169.0 361.2 169.3 361.0 169.5C360.9 169.8 360.7 170.1 360.4 170.2C360.2 170.3 359.8 170.3 359.5 170.4C359.1 170.4 358.8 170.4 358.5 170.4C358.2 170.4 358.0 170.6 357.8 170.5C357.5 170.5 357.4 170.3 357.1 170.2Z" fill="#fff" stroke="#1a1a1a" stroke-width="1.15" stroke-linejoin="round" stroke-linecap="round" />
<path d="M352 112C351.4 124 353 136 352.6 146C352.2 154 353.4 160 353.8 164" fill="none" stroke="#1a1a1a" stroke-width="0.80" stroke-linejoin="round" stroke-linecap="round" />
<path d="M358.5 113L359.5 121M359.8 128L359 135M358 141L358.6 149M358.8 154L358.4 161" fill="none" stroke="#1a1a1a" stroke-width="0.80" stroke-linejoin="round" stroke-linecap="round" />
<path d="M356.9 170.8L353.6 174.9L361 174.8Z" fill="#1a1a1a" stroke="#1a1a1a" stroke-width="0.90" stroke-linejoin="round" stroke-linecap="round" />
<path d="M541.6 165.0C541.3 165.0 541.1 164.7 540.5 164.4C539.9 164.1 538.6 163.7 538.1 163.0C537.6 162.3 537.8 160.9 537.7 160.0C537.5 159.0 537.5 158.1 537.2 157.3C536.8 156.5 535.8 156.1 535.4 155.3C535.1 154.6 535.0 153.7 535.0 152.8C535.0 152.0 535.7 151.0 535.6 150.2C535.4 149.3 534.4 148.7 534.0 147.9C533.5 147.2 533.1 146.4 533.0 145.6C533.0 144.8 533.6 143.8 533.7 143.0C533.7 142.2 533.7 141.4 533.4 140.6C533.2 139.8 532.2 139.0 532.2 138.1C532.2 137.3 532.8 136.4 533.3 135.7C533.8 134.9 535.1 134.4 535.4 133.6C535.7 132.7 535.1 131.5 535.1 130.7C535.1 129.9 535.1 129.2 535.3 128.5C535.5 127.9 536.0 127.3 536.1 126.7C536.2 126.1 536.1 125.5 535.9 125.0C535.7 124.5 535.3 124.2 535.0 123.7C534.6 123.2 534.0 122.8 533.7 122.3C533.4 121.7 533.2 121.1 533.2 120.4C533.3 119.7 533.8 118.8 533.8 118.1C533.9 117.4 533.9 116.7 533.6 116.0C533.3 115.4 532.2 114.8 532.0 114.1C531.7 113.5 531.8 112.7 532.0 112.0C532.3 111.4 533.0 110.8 533.3 110.1C533.7 109.5 534.0 109.0 534.1 108.3C534.2 107.5 533.6 106.6 533.8 105.9C533.9 105.1 534.3 104.2 535.0 103.6C535.6 102.9 536.9 102.6 537.6 102.0C538.3 101.3 538.6 100.5 539.1 99.9C539.6 99.3 540.0 98.4 540.6 98.2C541.1 98.1 541.9 98.5 542.4 98.9C542.8 99.4 542.9 100.3 543.2 101.0C543.6 101.6 544.0 102.3 544.6 102.8C545.2 103.3 546.4 103.5 546.9 104.1C547.3 104.8 547.2 105.8 547.3 106.7C547.4 107.6 547.1 108.6 547.5 109.4C547.9 110.3 549.2 110.8 549.6 111.6C550.1 112.4 550.2 113.4 550.0 114.1C549.8 114.8 548.8 115.3 548.5 116.0C548.1 116.6 547.9 117.2 547.9 117.9C547.8 118.7 548.2 119.6 548.2 120.3C548.1 121.0 547.9 121.4 547.7 122.1C547.4 122.9 546.6 124.0 546.8 124.8C547.0 125.6 548.2 126.2 548.9 127.0C549.5 127.7 550.5 128.4 550.6 129.3C550.8 130.1 550.0 131.1 549.8 131.8C549.6 132.6 549.5 132.9 549.5 133.5C549.5 134.1 549.6 134.7 549.6 135.4C549.6 136.0 549.6 136.6 549.5 137.2C549.4 137.7 549.1 138.0 548.7 138.4C548.4 138.8 547.7 139.0 547.4 139.3C547.1 139.7 547.1 140.0 547.0 140.4C546.9 140.8 546.6 141.1 546.6 141.5C546.6 142.0 546.9 142.5 547.1 143.1C547.3 143.6 547.6 144.2 547.6 144.9C547.6 145.5 547.5 146.2 547.3 146.9C547.0 147.6 546.3 148.3 546.1 149.0C545.9 149.7 545.9 150.3 546.1 151.1C546.3 151.8 547.1 152.5 547.2 153.2C547.3 153.9 547.0 154.6 546.7 155.3C546.3 155.9 545.4 156.5 545.1 157.1C544.9 157.7 545.1 158.3 545.1 159.0C545.2 159.8 545.6 160.7 545.4 161.5C545.3 162.3 544.7 163.1 544.2 163.6C543.6 164.1 542.4 164.2 542.0 164.5C541.6 164.7 541.8 165.0 541.6 165.0Z" fill="#fff" stroke="#1a1a1a" stroke-width="1.15" stroke-linejoin="round" stroke-linecap="round" />
<path d="M538.8 108C537.8 114 539.6 118 538.8 124M544 110C545 116 544.6 120 545.2 125M542 130C540.8 136 543.4 140 542 146M545.8 132C546.6 138 545.6 142 546.2 147M538.6 142C537.6 147 539.4 151 538.8 156M543 152C542 156 544 159 543 163" fill="none" stroke="#1a1a1a" stroke-width="0.80" stroke-linejoin="round" stroke-linecap="round" />
<path d="M541.4 165.5L541.4 170" fill="none" stroke="#1a1a1a" stroke-width="1.60" stroke-linejoin="round" stroke-linecap="round" />
<path d="M541.4 170L536.6 173.9L546.6 173.8Z" fill="#1a1a1a" stroke="#1a1a1a" stroke-width="0.90" stroke-linejoin="round" stroke-linecap="round" />
<text x="363.4" y="200.2" style="font-family:'Liberation Sans',sans-serif;font-size:9.70px;font-style:italic;font-weight:normal;letter-spacing:0.19px" fill="#1a1a1a" textLength="35.5" lengthAdjust="spacingAndGlyphs" stroke="#1a1a1a" stroke-width="0.42" >Ombre</text>
<text x="495.1" y="197.8" style="font-family:'Liberation Sans',sans-serif;font-size:9.70px;font-style:italic;font-weight:normal;letter-spacing:0.42px" fill="#1a1a1a" textLength="57.4" lengthAdjust="spacingAndGlyphs" stroke="#1a1a1a" stroke-width="0.42" >Réflexions</text>
<text x="391.5" y="217.7" style="font-family:'Liberation Sans',sans-serif;font-size:9.70px;font-style:italic;font-weight:normal;letter-spacing:0.00px" fill="#1a1a1a" textLength="65.5" lengthAdjust="spacingAndGlyphs" stroke="#1a1a1a" stroke-width="0.42" >Rayonnement</text>
<text x="470.8" y="217.7" style="font-family:'Liberation Sans',sans-serif;font-size:9.70px;font-style:italic;font-weight:normal;letter-spacing:0.28px" fill="#1a1a1a" textLength="35.4" lengthAdjust="spacingAndGlyphs" stroke="#1a1a1a" stroke-width="0.42" >solaire</text>
<text x="517.0" y="217.7" style="font-family:'Liberation Sans',sans-serif;font-size:9.70px;font-style:italic;font-weight:normal;letter-spacing:0.41px" fill="#1a1a1a" textLength="30.4" lengthAdjust="spacingAndGlyphs" stroke="#1a1a1a" stroke-width="0.42" >direct</text>
<text x="408.0" y="233.0" style="font-family:'Liberation Sans',sans-serif;font-size:9.70px;font-style:italic;font-weight:normal;letter-spacing:0.00px" fill="#1a1a1a" textLength="11.0" lengthAdjust="spacingAndGlyphs" stroke="#1a1a1a" stroke-width="0.42" >de</text>
<text x="427.6" y="233.0" style="font-family:'Liberation Sans',sans-serif;font-size:9.70px;font-style:italic;font-weight:normal;letter-spacing:0.00px" fill="#1a1a1a" textLength="30.4" lengthAdjust="spacingAndGlyphs" stroke="#1a1a1a" stroke-width="0.42" >courte</text>
<text x="468.8" y="233.0" style="font-family:'Liberation Sans',sans-serif;font-size:9.70px;font-style:italic;font-weight:normal;letter-spacing:0.00px" fill="#1a1a1a" textLength="43.2" lengthAdjust="spacingAndGlyphs" stroke="#1a1a1a" stroke-width="0.42" >longueur</text>
<text x="523.8" y="233.0" style="font-family:'Liberation Sans',sans-serif;font-size:9.70px;font-style:italic;font-weight:normal;letter-spacing:0.05px" fill="#1a1a1a" textLength="33.8" lengthAdjust="spacingAndGlyphs" stroke="#1a1a1a" stroke-width="0.42" >d'onde</text>
<g transform="rotate(0.33 100 265.4)">
<text x="46.5" y="265.4" style="font-family:'Liberation Mono',sans-serif;font-size:11.30px;font-weight:normal" fill="#1a1a1a" textLength="485.6" lengthAdjust="spacing" stroke="#1a1a1a" stroke-width="0.50" >Figure 5.8. - Schéma illustrant les effets des brise-vent à l'échelle</text>
<line x1="46.8" y1="268.5" x2="117.5" y2="268.5" stroke="#1a1a1a" stroke-width="1.20" />
<text x="145.2" y="279.0" style="font-family:'Liberation Mono',sans-serif;font-size:11.30px;font-weight:normal" fill="#1a1a1a" textLength="379.9" lengthAdjust="spacing" stroke="#1a1a1a" stroke-width="0.50" >parcellaire sur les échanges radiatifs de courte et de</text>
<text x="145.2" y="292.6" style="font-family:'Liberation Mono',sans-serif;font-size:11.30px;font-weight:normal" fill="#1a1a1a" textLength="161.3" lengthAdjust="spacing" stroke="#1a1a1a" stroke-width="0.50" >grande longueur d'onde.</text>
</g>
<text x="271.2" y="320.7" style="font-family:'Liberation Sans',sans-serif;font-size:9.60px;font-style:italic;font-weight:normal;letter-spacing:0.81px" fill="#1a1a1a" textLength="25.4" lengthAdjust="spacingAndGlyphs" stroke="#1a1a1a" stroke-width="0.42" >Jour</text>
<text x="309.8" y="320.7" style="font-family:'Liberation Sans',sans-serif;font-size:9.60px;font-style:italic;font-weight:normal;letter-spacing:1.31px" fill="#1a1a1a" textLength="28.0" lengthAdjust="spacingAndGlyphs" stroke="#1a1a1a" stroke-width="0.42" >clair</text>
<text x="293.6" y="349.7" style="font-family:'Liberation Sans',sans-serif;font-size:8.80px;font-style:italic;font-weight:normal;letter-spacing:0.19px" fill="#1a1a1a" textLength="21.5" lengthAdjust="spacingAndGlyphs" stroke="#1a1a1a" stroke-width="0.42" >Vent</text>
<line x1="280.2" y1="352.0" x2="333.5" y2="352.4" stroke="#1a1a1a" stroke-width="1.50" />
<line x1="334.2" y1="352.4" x2="328.9" y2="355.1" stroke="#1a1a1a" stroke-width="1.40" />
<line x1="334.2" y1="352.4" x2="328.9" y2="349.7" stroke="#1a1a1a" stroke-width="1.40" />
<line x1="112.5" y1="393.4" x2="509.0" y2="396.2" stroke="#1a1a1a" stroke-width="1.70" />
<line x1="119.5" y1="393.8" x2="109.9" y2="401.3" stroke="#1a1a1a" stroke-width="1.55" />
<line x1="125.1" y1="393.9" x2="115.5" y2="401.4" stroke="#1a1a1a" stroke-width="1.55" />
<line x1="130.8" y1="393.9" x2="121.2" y2="401.4" stroke="#1a1a1a" stroke-width="1.55" />
<line x1="136.5" y1="394.0" x2="126.9" y2="401.5" stroke="#1a1a1a" stroke-width="1.55" />
<line x1="142.3" y1="394.0" x2="132.7" y2="401.5" stroke="#1a1a1a" stroke-width="1.55" />
<line x1="148.1" y1="394.1" x2="138.5" y2="401.6" stroke="#1a1a1a" stroke-width="1.55" />
<line x1="154.0" y1="394.1" x2="144.4" y2="401.6" stroke="#1a1a1a" stroke-width="1.55" />
<line x1="160.0" y1="394.1" x2="150.4" y2="401.6" stroke="#1a1a1a" stroke-width="1.55" />
<line x1="166.0" y1="394.2" x2="156.4" y2="401.7" stroke="#1a1a1a" stroke-width="1.55" />
<line x1="172.0" y1="394.2" x2="162.4" y2="401.7" stroke="#1a1a1a" stroke-width="1.55" />
<line x1="178.1" y1="394.3" x2="168.5" y2="401.8" stroke="#1a1a1a" stroke-width="1.55" />
<line x1="184.3" y1="394.3" x2="174.7" y2="401.8" stroke="#1a1a1a" stroke-width="1.55" />
<line x1="190.5" y1="394.4" x2="180.9" y2="401.9" stroke="#1a1a1a" stroke-width="1.55" />
<line x1="196.8" y1="394.4" x2="187.2" y2="401.9" stroke="#1a1a1a" stroke-width="1.55" />
<line x1="203.1" y1="394.4" x2="193.5" y2="401.9" stroke="#1a1a1a" stroke-width="1.55" />
<line x1="209.5" y1="394.5" x2="199.9" y2="402.0" stroke="#1a1a1a" stroke-width="1.55" />
<line x1="216.0" y1="394.5" x2="206.4" y2="402.0" stroke="#1a1a1a" stroke-width="1.55" />
<line x1="222.5" y1="394.6" x2="212.9" y2="402.1" stroke="#1a1a1a" stroke-width="1.55" />
<line x1="229.1" y1="394.6" x2="219.5" y2="402.1" stroke="#1a1a1a" stroke-width="1.55" />
<line x1="235.7" y1="394.7" x2="226.1" y2="402.2" stroke="#1a1a1a" stroke-width="1.55" />
<line x1="242.4" y1="394.7" x2="232.8" y2="402.2" stroke="#1a1a1a" stroke-width="1.55" />
<line x1="249.2" y1="394.8" x2="239.6" y2="402.3" stroke="#1a1a1a" stroke-width="1.55" />
<line x1="256.0" y1="394.8" x2="246.4" y2="402.3" stroke="#1a1a1a" stroke-width="1.55" />
<line x1="262.9" y1="394.9" x2="253.3" y2="402.4" stroke="#1a1a1a" stroke-width="1.55" />
<line x1="269.9" y1="394.9" x2="260.3" y2="402.4" stroke="#1a1a1a" stroke-width="1.55" />
<line x1="276.9" y1="395.0" x2="267.3" y2="402.5" stroke="#1a1a1a" stroke-width="1.55" />
<line x1="284.0" y1="395.0" x2="274.4" y2="402.5" stroke="#1a1a1a" stroke-width="1.55" />
<line x1="291.1" y1="395.1" x2="281.5" y2="402.6" stroke="#1a1a1a" stroke-width="1.55" />
<line x1="298.4" y1="395.1" x2="288.8" y2="402.6" stroke="#1a1a1a" stroke-width="1.55" />
<line x1="305.6" y1="395.2" x2="296.0" y2="402.7" stroke="#1a1a1a" stroke-width="1.55" />
<line x1="313.0" y1="395.2" x2="303.4" y2="402.7" stroke="#1a1a1a" stroke-width="1.55" />
<line x1="320.4" y1="395.3" x2="310.8" y2="402.8" stroke="#1a1a1a" stroke-width="1.55" />
<line x1="327.9" y1="395.3" x2="318.3" y2="402.8" stroke="#1a1a1a" stroke-width="1.55" />
<line x1="335.5" y1="395.4" x2="325.9" y2="402.9" stroke="#1a1a1a" stroke-width="1.55" />
<line x1="343.1" y1="395.4" x2="333.5" y2="402.9" stroke="#1a1a1a" stroke-width="1.55" />
<line x1="350.8" y1="395.5" x2="341.2" y2="403.0" stroke="#1a1a1a" stroke-width="1.55" />
<line x1="358.6" y1="395.5" x2="349.0" y2="403.0" stroke="#1a1a1a" stroke-width="1.55" />
<line x1="366.4" y1="395.6" x2="356.8" y2="403.1" stroke="#1a1a1a" stroke-width="1.55" />
<line x1="374.4" y1="395.6" x2="364.8" y2="403.1" stroke="#1a1a1a" stroke-width="1.55" />
<line x1="382.3" y1="395.7" x2="372.7" y2="403.2" stroke="#1a1a1a" stroke-width="1.55" />
<line x1="390.4" y1="395.8" x2="380.8" y2="403.3" stroke="#1a1a1a" stroke-width="1.55" />
<line x1="398.6" y1="395.8" x2="389.0" y2="403.3" stroke="#1a1a1a" stroke-width="1.55" />
<line x1="406.8" y1="395.9" x2="397.2" y2="403.4" stroke="#1a1a1a" stroke-width="1.55" />
<line x1="415.1" y1="395.9" x2="405.5" y2="403.4" stroke="#1a1a1a" stroke-width="1.55" />
<line x1="423.5" y1="396.0" x2="413.9" y2="403.5" stroke="#1a1a1a" stroke-width="1.55" />
<line x1="431.9" y1="396.1" x2="422.3" y2="403.6" stroke="#1a1a1a" stroke-width="1.55" />
<line x1="440.4" y1="396.1" x2="430.8" y2="403.6" stroke="#1a1a1a" stroke-width="1.55" />
<line x1="449.1" y1="396.2" x2="439.5" y2="403.7" stroke="#1a1a1a" stroke-width="1.55" />
<line x1="457.7" y1="396.2" x2="448.1" y2="403.7" stroke="#1a1a1a" stroke-width="1.55" />
<line x1="466.5" y1="396.3" x2="456.9" y2="403.8" stroke="#1a1a1a" stroke-width="1.55" />
<line x1="475.4" y1="396.4" x2="465.8" y2="403.9" stroke="#1a1a1a" stroke-width="1.55" />
<line x1="484.3" y1="396.4" x2="474.7" y2="403.9" stroke="#1a1a1a" stroke-width="1.55" />
<line x1="493.3" y1="396.5" x2="483.7" y2="404.0" stroke="#1a1a1a" stroke-width="1.55" />
<line x1="502.4" y1="396.6" x2="492.8" y2="404.1" stroke="#1a1a1a" stroke-width="1.55" />
<path d="M132.5 387.4C131.5 387.2 129.8 386.2 128.9 385.4C128.0 384.5 127.4 383.2 127.3 382.2C127.1 381.1 128.3 380.0 128.1 378.9C127.9 377.9 126.2 376.9 126.1 375.7C125.9 374.6 127.2 373.2 127.3 372.1C127.3 371.0 126.3 370.0 126.5 368.9C126.6 367.8 127.9 366.7 128.1 365.7C128.3 364.7 127.3 363.7 127.7 362.9C128.0 362.0 129.2 360.9 130.1 360.5C131.0 360.0 132.2 359.9 133.3 360.0C134.4 360.2 135.7 360.7 136.5 361.3C137.3 361.9 137.6 362.9 138.1 363.7C138.7 364.5 139.8 365.1 139.9 366.1C140.0 367.1 138.6 368.5 138.5 369.7C138.4 370.9 139.5 372.2 139.3 373.3C139.2 374.5 137.9 375.3 137.7 376.5C137.5 377.7 138.3 379.3 138.1 380.5C138.0 381.8 137.5 382.8 136.9 383.8C136.4 384.8 135.7 386.0 134.9 386.6C134.2 387.2 133.5 387.6 132.5 387.4Z" fill="#fff" stroke="#1a1a1a" stroke-width="1.45" stroke-linejoin="round" stroke-linecap="round" />
<path d="M131.5 368C130 369.5 130.5 371.5 132 372M134.5 366.5C135.8 367.5 135.2 369 134 369.5M131 376C130.2 377.5 131.2 379 132.2 379.5M134.8 374C135.6 375.5 134.6 377 135.4 378.5M131.8 382.5C132.6 384 134 383.6 134.6 382.4" fill="none" stroke="#1a1a1a" stroke-width="1.00" stroke-linejoin="round" stroke-linecap="round" />
<path d="M132.5 387L132.5 393" fill="none" stroke="#1a1a1a" stroke-width="2.00" stroke-linejoin="round" stroke-linecap="round" />
<path d="M132.5 390.2L129 393.4L136.3 393.4Z" fill="#1a1a1a" stroke="#1a1a1a" stroke-width="0.80" stroke-linejoin="round" stroke-linecap="round" />
<path d="M481.0 388.2C479.7 388.0 477.7 387.6 476.7 386.7C475.7 385.8 474.9 384.0 474.8 382.9C474.6 381.7 475.8 381.0 475.7 380.0C475.7 378.9 474.3 377.6 474.3 376.6C474.3 375.5 475.7 374.7 475.7 373.7C475.7 372.7 474.4 371.5 474.3 370.3C474.1 369.1 474.3 367.6 474.8 366.5C475.3 365.3 476.1 364.1 477.2 363.6C478.2 363.0 479.8 362.9 481.0 363.1C482.3 363.3 483.8 363.8 484.9 364.5C486.0 365.3 487.4 366.3 487.6 367.4C487.8 368.6 486.8 370.4 486.3 371.3C485.9 372.2 484.7 371.9 484.9 372.7C485.1 373.5 487.1 374.9 487.3 376.1C487.5 377.3 486.7 379.0 486.3 380.0C486.0 380.9 485.3 381.1 485.4 381.9C485.5 382.7 486.9 383.8 486.8 384.8C486.7 385.8 485.9 387.1 484.9 387.7C483.9 388.2 482.4 388.3 481.0 388.2Z" fill="#fff" stroke="#1a1a1a" stroke-width="1.45" stroke-linejoin="round" stroke-linecap="round" />
<path d="M478.5 367.5C480 366 482 366.2 483 367.5M477.5 373.5C476.8 375 477.6 376.6 478.6 377M482.5 371C484 372 483.6 374 482.6 375M479 380C478.2 381.5 479 383 480 383.6M482.4 378.6C483.4 380 482.8 381.8 483.4 383" fill="none" stroke="#1a1a1a" stroke-width="1.00" stroke-linejoin="round" stroke-linecap="round" />
<path d="M481 388L481 395.8" fill="none" stroke="#1a1a1a" stroke-width="2.10" stroke-linejoin="round" stroke-linecap="round" />
<line x1="167.2" y1="421.0" x2="165.3" y2="799.0" stroke="#b5b5b5" stroke-width="0.65" stroke-dasharray="43 27 20 13" stroke-dashoffset="68"/>
<line x1="202.1" y1="421.0" x2="200.2" y2="799.0" stroke="#858585" stroke-width="0.65" stroke-dasharray="43 27 20 13" stroke-dashoffset="67"/>
<line x1="237.0" y1="421.0" x2="235.1" y2="799.0" stroke="#858585" stroke-width="0.65" stroke-dasharray="43 27 20 13" stroke-dashoffset="69"/>
<line x1="271.9" y1="421.0" x2="270.0" y2="799.0" stroke="#555" stroke-width="0.65" stroke-dasharray="43 27 20 13" stroke-dashoffset="67"/>
<line x1="306.8" y1="421.0" x2="304.9" y2="799.0" stroke="#555" stroke-width="0.65" stroke-dasharray="43 27 20 13" stroke-dashoffset="67"/>
<line x1="341.7" y1="421.0" x2="339.8" y2="799.0" stroke="#555" stroke-width="0.65" stroke-dasharray="43 27 20 13" stroke-dashoffset="69"/>
<line x1="376.6" y1="421.0" x2="374.7" y2="799.0" stroke="#555" stroke-width="0.65" stroke-dasharray="43 27 20 13" stroke-dashoffset="73"/>
<line x1="411.5" y1="421.0" x2="409.6" y2="799.0" stroke="#555" stroke-width="0.65" stroke-dasharray="43 27 20 13" stroke-dashoffset="72"/>
<line x1="446.4" y1="421.0" x2="444.5" y2="799.0" stroke="#555" stroke-width="0.65" stroke-dasharray="43 27 20 13" stroke-dashoffset="72"/>
<line x1="481.5" y1="397.0" x2="479.4" y2="798.5" stroke="#1a1a1a" stroke-width="1.40" stroke-dasharray="6.8 3.6" stroke-dashoffset="2"/>
<line x1="132.3" y1="429.0" x2="131.9" y2="509.2" stroke="#1a1a1a" stroke-width="1.80" />
<path d="M132.3 425.5 L129.4 433.3 L135.2 433.3 Z" fill="#1a1a1a"/>
<line x1="131.8" y1="515.8" x2="131.5" y2="588.5" stroke="#1a1a1a" stroke-width="1.80" />
<path d="M131.9 512.3 L129.0 520.1 L134.8 520.1 Z" fill="#1a1a1a"/>
<line x1="131.4" y1="605.5" x2="131.1" y2="664.7" stroke="#1a1a1a" stroke-width="1.80" />
<path d="M131.4 602.0 L128.5 609.8 L134.3 609.8 Z" fill="#1a1a1a"/>
<line x1="130.9" y1="700.4" x2="130.4" y2="796.0" stroke="#1a1a1a" stroke-width="1.80" />
<path d="M130.9 696.9 L128.0 704.7 L133.8 704.7 Z" fill="#1a1a1a"/>
<line x1="132.1" y1="470.4" x2="499.4" y2="473.8" stroke="#1a1a1a" stroke-width="1.25" />
<line x1="499.9" y1="473.8" x2="494.0" y2="476.8" stroke="#1a1a1a" stroke-width="1.25" />
<line x1="499.9" y1="473.8" x2="494.1" y2="470.6" stroke="#1a1a1a" stroke-width="1.25" />
<line x1="131.5" y1="572.8" x2="498.3" y2="576.2" stroke="#1a1a1a" stroke-width="1.25" />
<line x1="498.8" y1="576.2" x2="492.9" y2="579.2" stroke="#1a1a1a" stroke-width="1.25" />
<line x1="498.8" y1="576.2" x2="493.0" y2="573.0" stroke="#1a1a1a" stroke-width="1.25" />
<line x1="131.1" y1="658.6" x2="498.3" y2="662.0" stroke="#1a1a1a" stroke-width="1.25" />
<line x1="498.8" y1="662.0" x2="492.9" y2="665.0" stroke="#1a1a1a" stroke-width="1.25" />
<line x1="498.8" y1="662.0" x2="493.0" y2="658.8" stroke="#1a1a1a" stroke-width="1.25" />
<line x1="130.6" y1="752.5" x2="500.4" y2="755.9" stroke="#1a1a1a" stroke-width="1.25" />
<line x1="500.9" y1="755.9" x2="495.0" y2="758.9" stroke="#1a1a1a" stroke-width="1.25" />
<line x1="500.9" y1="755.9" x2="495.1" y2="752.8" stroke="#1a1a1a" stroke-width="1.25" />
<line x1="127.0" y1="795.0" x2="521.5" y2="798.6" stroke="#1a1a1a" stroke-width="1.50" />
<line x1="522.6" y1="798.6" x2="516.3" y2="801.7" stroke="#1a1a1a" stroke-width="1.40" />
<line x1="522.6" y1="798.6" x2="516.4" y2="795.4" stroke="#1a1a1a" stroke-width="1.40" />
<line x1="165.3" y1="789.8" x2="165.3" y2="796.5" stroke="#1a1a1a" stroke-width="1.00" />
<line x1="200.2" y1="790.1" x2="200.2" y2="796.8" stroke="#1a1a1a" stroke-width="1.00" />
<line x1="235.1" y1="790.5" x2="235.1" y2="797.2" stroke="#1a1a1a" stroke-width="1.00" />
<line x1="270.0" y1="790.8" x2="270.0" y2="797.5" stroke="#1a1a1a" stroke-width="1.00" />
<line x1="304.9" y1="791.1" x2="304.9" y2="797.8" stroke="#1a1a1a" stroke-width="1.00" />
<line x1="339.8" y1="791.4" x2="339.8" y2="798.1" stroke="#1a1a1a" stroke-width="1.00" />
<line x1="374.7" y1="791.7" x2="374.7" y2="798.4" stroke="#1a1a1a" stroke-width="1.00" />
<line x1="409.6" y1="792.1" x2="409.6" y2="798.8" stroke="#1a1a1a" stroke-width="1.00" />
<line x1="444.5" y1="792.4" x2="444.5" y2="799.1" stroke="#1a1a1a" stroke-width="1.00" />
<g clip-path="url(#cA)">
<line x1="131.0" y1="474.9" x2="191.0" y2="450.3" stroke="#1a1a1a" stroke-width="1.15" />
<line x1="131.0" y1="479.8" x2="191.0" y2="455.2" stroke="#1a1a1a" stroke-width="1.15" />
<line x1="131.0" y1="484.4" x2="191.0" y2="459.8" stroke="#1a1a1a" stroke-width="1.15" />
<line x1="131.0" y1="489.2" x2="191.0" y2="464.6" stroke="#1a1a1a" stroke-width="1.15" />
<line x1="131.0" y1="494.2" x2="191.0" y2="469.6" stroke="#1a1a1a" stroke-width="1.15" />
<line x1="131.0" y1="499.0" x2="191.0" y2="474.4" stroke="#1a1a1a" stroke-width="1.15" />
<line x1="131.0" y1="503.6" x2="191.0" y2="479.0" stroke="#1a1a1a" stroke-width="1.15" />
</g>
<path d="M132.2 505.3C133.4 504.8 137.0 503.6 139.5 502.4C142.0 501.2 144.8 499.7 147.2 498.1C149.6 496.5 151.8 494.7 153.9 492.8C156.0 490.9 157.9 489.0 159.7 487.0C161.5 485.0 163.1 482.6 164.5 480.7C165.9 478.8 166.9 477.0 167.9 475.4C168.9 473.8 169.9 471.7 170.3 471.0" fill="none" stroke="#1a1a1a" stroke-width="2.00" stroke-linejoin="round" stroke-linecap="round" />
<g clip-path="url(#cR)">
<line x1="382.0" y1="511.4" x2="482.0" y2="416.4" stroke="#1a1a1a" stroke-width="1.15" />
<line x1="388.0" y1="511.4" x2="488.0" y2="416.4" stroke="#1a1a1a" stroke-width="1.15" />
<line x1="394.0" y1="511.4" x2="494.0" y2="416.4" stroke="#1a1a1a" stroke-width="1.15" />
<line x1="400.0" y1="511.4" x2="500.0" y2="416.4" stroke="#1a1a1a" stroke-width="1.15" />
<line x1="406.0" y1="511.4" x2="506.0" y2="416.4" stroke="#1a1a1a" stroke-width="1.15" />
<line x1="412.0" y1="511.4" x2="512.0" y2="416.4" stroke="#1a1a1a" stroke-width="1.15" />
<line x1="418.0" y1="511.4" x2="518.0" y2="416.4" stroke="#1a1a1a" stroke-width="1.15" />
<line x1="424.0" y1="511.4" x2="524.0" y2="416.4" stroke="#1a1a1a" stroke-width="1.15" />
<line x1="430.0" y1="511.4" x2="530.0" y2="416.4" stroke="#1a1a1a" stroke-width="1.15" />
<line x1="436.0" y1="511.4" x2="536.0" y2="416.4" stroke="#1a1a1a" stroke-width="1.15" />
<line x1="442.0" y1="511.4" x2="542.0" y2="416.4" stroke="#1a1a1a" stroke-width="1.15" />
<line x1="448.0" y1="511.4" x2="548.0" y2="416.4" stroke="#1a1a1a" stroke-width="1.15" />
<line x1="454.0" y1="511.4" x2="554.0" y2="416.4" stroke="#1a1a1a" stroke-width="1.15" />
</g>
<path d="M435.0 473.2C435.8 473.1 438.2 473.1 440.0 472.7C441.8 472.4 443.5 471.9 445.5 471.1C447.5 470.3 449.9 468.8 452.0 467.8C454.1 466.7 455.8 465.7 458.0 464.8C460.2 463.9 462.5 463.2 465.0 462.6C467.5 461.9 470.3 461.4 473.0 460.9C475.7 460.5 479.7 460.3 481.0 460.1" fill="none" stroke="#1a1a1a" stroke-width="1.80" stroke-linejoin="round" stroke-linecap="round" />
<g clip-path="url(#cB)">
<line x1="43.2" y1="604.5" x2="143.2" y2="526.5" stroke="#1a1a1a" stroke-width="1.15" />
<line x1="49.6" y1="604.5" x2="149.6" y2="526.5" stroke="#1a1a1a" stroke-width="1.15" />
<line x1="56.0" y1="604.5" x2="156.0" y2="526.5" stroke="#1a1a1a" stroke-width="1.15" />
<line x1="62.4" y1="604.5" x2="162.4" y2="526.5" stroke="#1a1a1a" stroke-width="1.15" />
<line x1="68.8" y1="604.5" x2="168.8" y2="526.5" stroke="#1a1a1a" stroke-width="1.15" />
<line x1="75.2" y1="604.5" x2="175.2" y2="526.5" stroke="#1a1a1a" stroke-width="1.15" />
<line x1="81.6" y1="604.5" x2="181.6" y2="526.5" stroke="#1a1a1a" stroke-width="1.15" />
<line x1="88.0" y1="604.5" x2="188.0" y2="526.5" stroke="#1a1a1a" stroke-width="1.15" />
<line x1="94.4" y1="604.5" x2="194.4" y2="526.5" stroke="#1a1a1a" stroke-width="1.15" />
<line x1="100.8" y1="604.5" x2="200.8" y2="526.5" stroke="#1a1a1a" stroke-width="1.15" />
<line x1="107.2" y1="604.5" x2="207.2" y2="526.5" stroke="#1a1a1a" stroke-width="1.15" />
<line x1="113.6" y1="604.5" x2="213.6" y2="526.5" stroke="#1a1a1a" stroke-width="1.15" />
<line x1="120.0" y1="604.5" x2="220.0" y2="526.5" stroke="#1a1a1a" stroke-width="1.15" />
<line x1="126.4" y1="604.5" x2="226.4" y2="526.5" stroke="#1a1a1a" stroke-width="1.15" />
<line x1="132.8" y1="604.5" x2="232.8" y2="526.5" stroke="#1a1a1a" stroke-width="1.15" />
<line x1="139.2" y1="604.5" x2="239.2" y2="526.5" stroke="#1a1a1a" stroke-width="1.15" />
<line x1="145.6" y1="604.5" x2="245.6" y2="526.5" stroke="#1a1a1a" stroke-width="1.15" />
<line x1="152.0" y1="604.5" x2="252.0" y2="526.5" stroke="#1a1a1a" stroke-width="1.15" />
<line x1="158.4" y1="604.5" x2="258.4" y2="526.5" stroke="#1a1a1a" stroke-width="1.15" />
<line x1="164.8" y1="604.5" x2="264.8" y2="526.5" stroke="#1a1a1a" stroke-width="1.15" />
<line x1="171.2" y1="604.5" x2="271.2" y2="526.5" stroke="#1a1a1a" stroke-width="1.15" />
<line x1="177.6" y1="604.5" x2="277.6" y2="526.5" stroke="#1a1a1a" stroke-width="1.15" />
<line x1="184.0" y1="604.5" x2="284.0" y2="526.5" stroke="#1a1a1a" stroke-width="1.15" />
<line x1="190.4" y1="604.5" x2="290.4" y2="526.5" stroke="#1a1a1a" stroke-width="1.15" />
<line x1="196.8" y1="604.5" x2="296.8" y2="526.5" stroke="#1a1a1a" stroke-width="1.15" />
<line x1="203.2" y1="604.5" x2="303.2" y2="526.5" stroke="#1a1a1a" stroke-width="1.15" />
<line x1="209.6" y1="604.5" x2="309.6" y2="526.5" stroke="#1a1a1a" stroke-width="1.15" />
</g>
<path d="M131.2 548.0C134.0 548.3 142.2 549.0 148.0 549.8C153.8 550.6 160.4 551.6 166.2 552.9C172.0 554.2 177.0 555.7 183.0 557.5C189.0 559.3 197.2 562.2 202.2 563.8C207.2 565.4 209.2 566.2 213.0 567.3C216.8 568.4 221.5 569.7 225.0 570.6C228.5 571.5 231.2 572.2 234.0 572.7C236.8 573.2 240.7 573.6 242.0 573.8" fill="none" stroke="#1a1a1a" stroke-width="1.80" stroke-linejoin="round" stroke-linecap="round" />
<g clip-path="url(#cB2)">
<line x1="313.8" y1="597.5" x2="413.8" y2="542.5" stroke="#1a1a1a" stroke-width="1.20" />
<line x1="322.2" y1="597.5" x2="422.2" y2="542.5" stroke="#1a1a1a" stroke-width="1.20" />
<line x1="330.6" y1="597.5" x2="430.6" y2="542.5" stroke="#1a1a1a" stroke-width="1.20" />
<line x1="339.0" y1="597.5" x2="439.0" y2="542.5" stroke="#1a1a1a" stroke-width="1.20" />
<line x1="347.4" y1="597.5" x2="447.4" y2="542.5" stroke="#1a1a1a" stroke-width="1.20" />
<line x1="355.8" y1="597.5" x2="455.8" y2="542.5" stroke="#1a1a1a" stroke-width="1.20" />
<line x1="364.2" y1="597.5" x2="464.2" y2="542.5" stroke="#1a1a1a" stroke-width="1.20" />
<line x1="372.6" y1="597.5" x2="472.6" y2="542.5" stroke="#1a1a1a" stroke-width="1.20" />
<line x1="381.0" y1="597.5" x2="481.0" y2="542.5" stroke="#1a1a1a" stroke-width="1.20" />
<line x1="389.4" y1="597.5" x2="489.4" y2="542.5" stroke="#1a1a1a" stroke-width="1.20" />
<line x1="397.8" y1="597.5" x2="497.8" y2="542.5" stroke="#1a1a1a" stroke-width="1.20" />
<line x1="406.2" y1="597.5" x2="506.2" y2="542.5" stroke="#1a1a1a" stroke-width="1.20" />
<line x1="414.6" y1="597.5" x2="514.6" y2="542.5" stroke="#1a1a1a" stroke-width="1.20" />
<line x1="423.0" y1="597.5" x2="523.0" y2="542.5" stroke="#1a1a1a" stroke-width="1.20" />
<line x1="431.4" y1="597.5" x2="531.4" y2="542.5" stroke="#1a1a1a" stroke-width="1.20" />
<line x1="439.8" y1="597.5" x2="539.8" y2="542.5" stroke="#1a1a1a" stroke-width="1.20" />
<line x1="448.2" y1="597.5" x2="548.2" y2="542.5" stroke="#1a1a1a" stroke-width="1.20" />
<line x1="456.6" y1="597.5" x2="556.6" y2="542.5" stroke="#1a1a1a" stroke-width="1.20" />
<line x1="465.0" y1="597.5" x2="565.0" y2="542.5" stroke="#1a1a1a" stroke-width="1.20" />
</g>
<path d="M373.5 575.0C375.1 574.8 379.9 574.5 383.0 573.9C386.1 573.3 389.2 572.4 392.0 571.6C394.8 570.8 397.2 569.8 400.0 568.9C402.8 567.9 405.6 566.7 408.6 565.8C411.6 564.8 414.8 564.0 418.0 563.2C421.2 562.4 424.7 561.7 427.9 560.9C431.1 560.2 434.0 559.5 437.0 558.8C440.0 558.1 442.6 557.6 445.8 556.9C449.0 556.2 452.6 555.4 456.0 554.7C459.4 554.0 463.5 553.2 466.5 552.7C469.5 552.1 471.7 551.8 474.0 551.4C476.3 550.9 479.3 550.4 480.4 550.2" fill="none" stroke="#1a1a1a" stroke-width="1.80" stroke-linejoin="round" stroke-linecap="round" />
<g clip-path="url(#cCl)">
<g clip-path="url(#cC)">
<line x1="42.2" y1="698.0" x2="142.2" y2="612.0" stroke="#1a1a1a" stroke-width="1.15" />
<line x1="48.5" y1="698.0" x2="148.5" y2="612.0" stroke="#1a1a1a" stroke-width="1.15" />
<line x1="54.8" y1="698.0" x2="154.8" y2="612.0" stroke="#1a1a1a" stroke-width="1.15" />
<line x1="61.1" y1="698.0" x2="161.1" y2="612.0" stroke="#1a1a1a" stroke-width="1.15" />
<line x1="67.4" y1="698.0" x2="167.4" y2="612.0" stroke="#1a1a1a" stroke-width="1.15" />
<line x1="73.7" y1="698.0" x2="173.7" y2="612.0" stroke="#1a1a1a" stroke-width="1.15" />
<line x1="80.0" y1="698.0" x2="180.0" y2="612.0" stroke="#1a1a1a" stroke-width="1.15" />
<line x1="86.3" y1="698.0" x2="186.3" y2="612.0" stroke="#1a1a1a" stroke-width="1.15" />
<line x1="92.6" y1="698.0" x2="192.6" y2="612.0" stroke="#1a1a1a" stroke-width="1.15" />
<line x1="98.9" y1="698.0" x2="198.9" y2="612.0" stroke="#1a1a1a" stroke-width="1.15" />
<line x1="105.2" y1="698.0" x2="205.2" y2="612.0" stroke="#1a1a1a" stroke-width="1.15" />
<line x1="111.5" y1="698.0" x2="211.5" y2="612.0" stroke="#1a1a1a" stroke-width="1.15" />
<line x1="117.8" y1="698.0" x2="217.8" y2="612.0" stroke="#1a1a1a" stroke-width="1.15" />
<line x1="124.1" y1="698.0" x2="224.1" y2="612.0" stroke="#1a1a1a" stroke-width="1.15" />
<line x1="130.4" y1="698.0" x2="230.4" y2="612.0" stroke="#1a1a1a" stroke-width="1.15" />
<line x1="136.7" y1="698.0" x2="236.7" y2="612.0" stroke="#1a1a1a" stroke-width="1.15" />
<line x1="143.0" y1="698.0" x2="243.0" y2="612.0" stroke="#1a1a1a" stroke-width="1.15" />
<line x1="149.3" y1="698.0" x2="249.3" y2="612.0" stroke="#1a1a1a" stroke-width="1.15" />
<line x1="155.6" y1="698.0" x2="255.6" y2="612.0" stroke="#1a1a1a" stroke-width="1.15" />
<line x1="161.9" y1="698.0" x2="261.9" y2="612.0" stroke="#1a1a1a" stroke-width="1.15" />
<line x1="168.2" y1="698.0" x2="268.2" y2="612.0" stroke="#1a1a1a" stroke-width="1.15" />
<line x1="174.5" y1="698.0" x2="274.5" y2="612.0" stroke="#1a1a1a" stroke-width="1.15" />
<line x1="180.8" y1="698.0" x2="280.8" y2="612.0" stroke="#1a1a1a" stroke-width="1.15" />
<line x1="187.1" y1="698.0" x2="287.1" y2="612.0" stroke="#1a1a1a" stroke-width="1.15" />
<line x1="193.4" y1="698.0" x2="293.4" y2="612.0" stroke="#1a1a1a" stroke-width="1.15" />
<line x1="199.7" y1="698.0" x2="299.7" y2="612.0" stroke="#1a1a1a" stroke-width="1.15" />
<line x1="206.0" y1="698.0" x2="306.0" y2="612.0" stroke="#1a1a1a" stroke-width="1.15" />
<line x1="212.3" y1="698.0" x2="312.3" y2="612.0" stroke="#1a1a1a" stroke-width="1.15" />
<line x1="218.6" y1="698.0" x2="318.6" y2="612.0" stroke="#1a1a1a" stroke-width="1.15" />
<line x1="224.9" y1="698.0" x2="324.9" y2="612.0" stroke="#1a1a1a" stroke-width="1.15" />
<line x1="231.2" y1="698.0" x2="331.2" y2="612.0" stroke="#1a1a1a" stroke-width="1.15" />
<line x1="237.5" y1="698.0" x2="337.5" y2="612.0" stroke="#1a1a1a" stroke-width="1.15" />
<line x1="243.8" y1="698.0" x2="343.8" y2="612.0" stroke="#1a1a1a" stroke-width="1.15" />
<line x1="250.1" y1="698.0" x2="350.1" y2="612.0" stroke="#1a1a1a" stroke-width="1.15" />
<line x1="256.4" y1="698.0" x2="356.4" y2="612.0" stroke="#1a1a1a" stroke-width="1.15" />
<line x1="262.7" y1="698.0" x2="362.7" y2="612.0" stroke="#1a1a1a" stroke-width="1.15" />
<line x1="269.0" y1="698.0" x2="369.0" y2="612.0" stroke="#1a1a1a" stroke-width="1.15" />
<line x1="275.3" y1="698.0" x2="375.3" y2="612.0" stroke="#1a1a1a" stroke-width="1.15" />
<line x1="281.6" y1="698.0" x2="381.6" y2="612.0" stroke="#1a1a1a" stroke-width="1.15" />
<line x1="287.9" y1="698.0" x2="387.9" y2="612.0" stroke="#1a1a1a" stroke-width="1.15" />
<line x1="294.2" y1="698.0" x2="394.2" y2="612.0" stroke="#1a1a1a" stroke-width="1.15" />
<line x1="300.5" y1="698.0" x2="400.5" y2="612.0" stroke="#1a1a1a" stroke-width="1.15" />
<line x1="306.8" y1="698.0" x2="406.8" y2="612.0" stroke="#1a1a1a" stroke-width="1.15" />
<line x1="313.1" y1="698.0" x2="413.1" y2="612.0" stroke="#1a1a1a" stroke-width="1.15" />
<line x1="319.4" y1="698.0" x2="419.4" y2="612.0" stroke="#1a1a1a" stroke-width="1.15" />
<line x1="325.7" y1="698.0" x2="425.7" y2="612.0" stroke="#1a1a1a" stroke-width="1.15" />
<line x1="332.0" y1="698.0" x2="432.0" y2="612.0" stroke="#1a1a1a" stroke-width="1.15" />
<line x1="338.3" y1="698.0" x2="438.3" y2="612.0" stroke="#1a1a1a" stroke-width="1.15" />
<line x1="344.6" y1="698.0" x2="444.6" y2="612.0" stroke="#1a1a1a" stroke-width="1.15" />
<line x1="350.9" y1="698.0" x2="450.9" y2="612.0" stroke="#1a1a1a" stroke-width="1.15" />
<line x1="357.2" y1="698.0" x2="457.2" y2="612.0" stroke="#1a1a1a" stroke-width="1.15" />
<line x1="363.5" y1="698.0" x2="463.5" y2="612.0" stroke="#1a1a1a" stroke-width="1.15" />
<line x1="369.8" y1="698.0" x2="469.8" y2="612.0" stroke="#1a1a1a" stroke-width="1.15" />
<line x1="376.1" y1="698.0" x2="476.1" y2="612.0" stroke="#1a1a1a" stroke-width="1.15" />
<line x1="382.4" y1="698.0" x2="482.4" y2="612.0" stroke="#1a1a1a" stroke-width="1.15" />
<line x1="388.7" y1="698.0" x2="488.7" y2="612.0" stroke="#1a1a1a" stroke-width="1.15" />
</g>
</g>
<g clip-path="url(#cCr)">
<g clip-path="url(#cC2)">
<line x1="346.6" y1="685.4" x2="446.6" y2="625.4" stroke="#1a1a1a" stroke-width="1.20" />
<line x1="355.3" y1="685.4" x2="455.3" y2="625.4" stroke="#1a1a1a" stroke-width="1.20" />
<line x1="364.0" y1="685.4" x2="464.0" y2="625.4" stroke="#1a1a1a" stroke-width="1.20" />
<line x1="372.7" y1="685.4" x2="472.7" y2="625.4" stroke="#1a1a1a" stroke-width="1.20" />
<line x1="381.4" y1="685.4" x2="481.4" y2="625.4" stroke="#1a1a1a" stroke-width="1.20" />
<line x1="390.1" y1="685.4" x2="490.1" y2="625.4" stroke="#1a1a1a" stroke-width="1.20" />
<line x1="398.8" y1="685.4" x2="498.8" y2="625.4" stroke="#1a1a1a" stroke-width="1.20" />
<line x1="407.5" y1="685.4" x2="507.5" y2="625.4" stroke="#1a1a1a" stroke-width="1.20" />
<line x1="416.2" y1="685.4" x2="516.2" y2="625.4" stroke="#1a1a1a" stroke-width="1.20" />
<line x1="424.9" y1="685.4" x2="524.9" y2="625.4" stroke="#1a1a1a" stroke-width="1.20" />
<line x1="433.6" y1="685.4" x2="533.6" y2="625.4" stroke="#1a1a1a" stroke-width="1.20" />
<line x1="442.3" y1="685.4" x2="542.3" y2="625.4" stroke="#1a1a1a" stroke-width="1.20" />
<line x1="451.0" y1="685.4" x2="551.0" y2="625.4" stroke="#1a1a1a" stroke-width="1.20" />
<line x1="459.7" y1="685.4" x2="559.7" y2="625.4" stroke="#1a1a1a" stroke-width="1.20" />
</g>
</g>
<path d="M131.3 658.6C131.8 657.5 133.3 654.2 134.5 652.0C135.7 649.8 137.4 647.4 138.7 645.5C140.0 643.6 141.1 641.8 142.3 640.6C143.6 639.4 144.0 638.7 146.2 638.2C148.4 637.7 150.5 637.4 155.3 637.6C160.1 637.8 166.9 638.5 174.8 639.4C182.7 640.3 191.6 641.6 202.5 643.0C213.4 644.3 227.1 646.0 240.0 647.6C252.9 649.2 270.0 650.9 280.0 652.4C290.0 653.8 293.6 655.0 300.0 656.4C306.4 657.7 312.8 659.2 318.6 660.3C324.4 661.5 328.9 662.2 335.0 663.3C341.1 664.4 349.0 666.1 355.0 667.0C361.0 667.8 366.0 668.7 371.0 668.6C376.0 668.5 380.2 667.8 385.0 666.5C389.8 665.3 394.2 662.9 400.0 661.1C405.8 659.3 413.3 657.6 420.0 655.9C426.7 654.2 433.3 652.5 440.0 650.8C446.7 649.2 453.3 647.6 460.0 645.8C466.7 644.1 477.0 641.2 480.4 640.3" fill="none" stroke="#1a1a1a" stroke-width="1.80" stroke-linejoin="round" stroke-linecap="round" />
<g clip-path="url(#cDn)">
<line x1="130.0" y1="755.4" x2="180.0" y2="729.4" stroke="#1a1a1a" stroke-width="1.15" />
<line x1="130.0" y1="760.7" x2="180.0" y2="734.7" stroke="#1a1a1a" stroke-width="1.15" />
<line x1="130.0" y1="766.3" x2="180.0" y2="740.3" stroke="#1a1a1a" stroke-width="1.15" />
<line x1="130.0" y1="771.8" x2="180.0" y2="745.8" stroke="#1a1a1a" stroke-width="1.15" />
<line x1="130.0" y1="777.1" x2="180.0" y2="751.1" stroke="#1a1a1a" stroke-width="1.15" />
</g>
<g clip-path="url(#cDl)">
<g clip-path="url(#cD)">
<line x1="64.0" y1="783.5" x2="164.0" y2="708.5" stroke="#1a1a1a" stroke-width="1.15" />
<line x1="71.0" y1="783.5" x2="171.0" y2="708.5" stroke="#1a1a1a" stroke-width="1.15" />
<line x1="78.0" y1="783.5" x2="178.0" y2="708.5" stroke="#1a1a1a" stroke-width="1.15" />
<line x1="85.0" y1="783.5" x2="185.0" y2="708.5" stroke="#1a1a1a" stroke-width="1.15" />
<line x1="92.0" y1="783.5" x2="192.0" y2="708.5" stroke="#1a1a1a" stroke-width="1.15" />
<line x1="99.0" y1="783.5" x2="199.0" y2="708.5" stroke="#1a1a1a" stroke-width="1.15" />
<line x1="106.0" y1="783.5" x2="206.0" y2="708.5" stroke="#1a1a1a" stroke-width="1.15" />
<line x1="113.0" y1="783.5" x2="213.0" y2="708.5" stroke="#1a1a1a" stroke-width="1.15" />
<line x1="120.0" y1="783.5" x2="220.0" y2="708.5" stroke="#1a1a1a" stroke-width="1.15" />
<line x1="127.0" y1="783.5" x2="227.0" y2="708.5" stroke="#1a1a1a" stroke-width="1.15" />
<line x1="134.0" y1="783.5" x2="234.0" y2="708.5" stroke="#1a1a1a" stroke-width="1.15" />
<line x1="141.0" y1="783.5" x2="241.0" y2="708.5" stroke="#1a1a1a" stroke-width="1.15" />
<line x1="148.0" y1="783.5" x2="248.0" y2="708.5" stroke="#1a1a1a" stroke-width="1.15" />
<line x1="155.0" y1="783.5" x2="255.0" y2="708.5" stroke="#1a1a1a" stroke-width="1.15" />
<line x1="162.0" y1="783.5" x2="262.0" y2="708.5" stroke="#1a1a1a" stroke-width="1.15" />
<line x1="169.0" y1="783.5" x2="269.0" y2="708.5" stroke="#1a1a1a" stroke-width="1.15" />
<line x1="176.0" y1="783.5" x2="276.0" y2="708.5" stroke="#1a1a1a" stroke-width="1.15" />
<line x1="183.0" y1="783.5" x2="283.0" y2="708.5" stroke="#1a1a1a" stroke-width="1.15" />
<line x1="190.0" y1="783.5" x2="290.0" y2="708.5" stroke="#1a1a1a" stroke-width="1.15" />
<line x1="197.0" y1="783.5" x2="297.0" y2="708.5" stroke="#1a1a1a" stroke-width="1.15" />
<line x1="204.0" y1="783.5" x2="304.0" y2="708.5" stroke="#1a1a1a" stroke-width="1.15" />
<line x1="211.0" y1="783.5" x2="311.0" y2="708.5" stroke="#1a1a1a" stroke-width="1.15" />
<line x1="218.0" y1="783.5" x2="318.0" y2="708.5" stroke="#1a1a1a" stroke-width="1.15" />
<line x1="225.0" y1="783.5" x2="325.0" y2="708.5" stroke="#1a1a1a" stroke-width="1.15" />
<line x1="232.0" y1="783.5" x2="332.0" y2="708.5" stroke="#1a1a1a" stroke-width="1.15" />
<line x1="239.0" y1="783.5" x2="339.0" y2="708.5" stroke="#1a1a1a" stroke-width="1.15" />
<line x1="246.0" y1="783.5" x2="346.0" y2="708.5" stroke="#1a1a1a" stroke-width="1.15" />
<line x1="253.0" y1="783.5" x2="353.0" y2="708.5" stroke="#1a1a1a" stroke-width="1.15" />
<line x1="260.0" y1="783.5" x2="360.0" y2="708.5" stroke="#1a1a1a" stroke-width="1.15" />
<line x1="267.0" y1="783.5" x2="367.0" y2="708.5" stroke="#1a1a1a" stroke-width="1.15" />
<line x1="274.0" y1="783.5" x2="374.0" y2="708.5" stroke="#1a1a1a" stroke-width="1.15" />
<line x1="281.0" y1="783.5" x2="381.0" y2="708.5" stroke="#1a1a1a" stroke-width="1.15" />
<line x1="288.0" y1="783.5" x2="388.0" y2="708.5" stroke="#1a1a1a" stroke-width="1.15" />
<line x1="295.0" y1="783.5" x2="395.0" y2="708.5" stroke="#1a1a1a" stroke-width="1.15" />
<line x1="302.0" y1="783.5" x2="402.0" y2="708.5" stroke="#1a1a1a" stroke-width="1.15" />
<line x1="309.0" y1="783.5" x2="409.0" y2="708.5" stroke="#1a1a1a" stroke-width="1.15" />
<line x1="316.0" y1="783.5" x2="416.0" y2="708.5" stroke="#1a1a1a" stroke-width="1.15" />
<line x1="323.0" y1="783.5" x2="423.0" y2="708.5" stroke="#1a1a1a" stroke-width="1.15" />
<line x1="330.0" y1="783.5" x2="430.0" y2="708.5" stroke="#1a1a1a" stroke-width="1.15" />
<line x1="337.0" y1="783.5" x2="437.0" y2="708.5" stroke="#1a1a1a" stroke-width="1.15" />
<line x1="344.0" y1="783.5" x2="444.0" y2="708.5" stroke="#1a1a1a" stroke-width="1.15" />
<line x1="351.0" y1="783.5" x2="451.0" y2="708.5" stroke="#1a1a1a" stroke-width="1.15" />
<line x1="358.0" y1="783.5" x2="458.0" y2="708.5" stroke="#1a1a1a" stroke-width="1.15" />
<line x1="365.0" y1="783.5" x2="465.0" y2="708.5" stroke="#1a1a1a" stroke-width="1.15" />
<line x1="372.0" y1="783.5" x2="472.0" y2="708.5" stroke="#1a1a1a" stroke-width="1.15" />
<line x1="379.0" y1="783.5" x2="479.0" y2="708.5" stroke="#1a1a1a" stroke-width="1.15" />
<line x1="386.0" y1="783.5" x2="486.0" y2="708.5" stroke="#1a1a1a" stroke-width="1.15" />
<line x1="393.0" y1="783.5" x2="493.0" y2="708.5" stroke="#1a1a1a" stroke-width="1.15" />
</g>
</g>
<g clip-path="url(#cDr)">
<g clip-path="url(#cD2)">
<line x1="346.4" y1="779.3" x2="446.4" y2="719.3" stroke="#1a1a1a" stroke-width="1.20" />
<line x1="355.0" y1="779.3" x2="455.0" y2="719.3" stroke="#1a1a1a" stroke-width="1.20" />
<line x1="363.6" y1="779.3" x2="463.6" y2="719.3" stroke="#1a1a1a" stroke-width="1.20" />
<line x1="372.2" y1="779.3" x2="472.2" y2="719.3" stroke="#1a1a1a" stroke-width="1.20" />
<line x1="380.8" y1="779.3" x2="480.8" y2="719.3" stroke="#1a1a1a" stroke-width="1.20" />
<line x1="389.4" y1="779.3" x2="489.4" y2="719.3" stroke="#1a1a1a" stroke-width="1.20" />
<line x1="398.0" y1="779.3" x2="498.0" y2="719.3" stroke="#1a1a1a" stroke-width="1.20" />
<line x1="406.6" y1="779.3" x2="506.6" y2="719.3" stroke="#1a1a1a" stroke-width="1.20" />
<line x1="415.2" y1="779.3" x2="515.2" y2="719.3" stroke="#1a1a1a" stroke-width="1.20" />
<line x1="423.8" y1="779.3" x2="523.8" y2="719.3" stroke="#1a1a1a" stroke-width="1.20" />
<line x1="432.4" y1="779.3" x2="532.4" y2="719.3" stroke="#1a1a1a" stroke-width="1.20" />
<line x1="441.0" y1="779.3" x2="541.0" y2="719.3" stroke="#1a1a1a" stroke-width="1.20" />
<line x1="449.6" y1="779.3" x2="549.6" y2="719.3" stroke="#1a1a1a" stroke-width="1.20" />
<line x1="458.2" y1="779.3" x2="558.2" y2="719.3" stroke="#1a1a1a" stroke-width="1.20" />
</g>
</g>
<path d="M130.7 780.5C131.6 780.0 134.3 778.5 136.0 777.3C137.7 776.0 139.5 774.5 140.9 773.0C142.3 771.5 143.4 769.6 144.5 768.0C145.6 766.4 146.3 765.1 147.2 763.5C148.0 761.9 148.7 760.3 149.6 758.5C150.5 756.7 151.1 754.8 152.4 752.7C153.7 750.6 155.3 747.8 157.6 745.9C159.9 744.0 162.9 742.3 166.0 741.3C169.1 740.2 172.6 739.6 176.4 739.6C180.2 739.6 184.5 740.4 189.0 741.3C193.5 742.2 198.7 743.6 203.6 744.9C208.5 746.2 213.2 747.6 218.2 749.0C223.2 750.4 228.2 752.1 233.5 753.4C238.8 754.8 243.9 756.1 250.0 757.1C256.1 758.1 263.6 759.1 270.0 759.6C276.4 760.1 281.8 760.2 288.5 760.1C295.2 760.1 303.4 759.7 310.0 759.1C316.6 758.6 322.8 757.7 328.0 756.9C333.2 756.1 337.0 755.2 341.0 754.4C345.0 753.6 348.0 752.7 352.0 752.1C356.0 751.6 358.7 751.4 365.0 751.1C371.3 750.7 384.2 750.5 390.0 750.3C395.8 750.0 396.8 749.8 400.0 749.6C403.2 749.3 406.1 749.2 409.4 748.9C412.7 748.6 416.7 748.3 420.0 747.8C423.3 747.3 426.2 746.4 429.0 745.8C431.8 745.2 434.2 744.8 437.0 744.1C439.8 743.4 442.8 742.6 445.6 741.7C448.4 740.8 451.2 739.9 454.0 738.9C456.8 737.8 459.4 736.6 462.2 735.5C465.0 734.5 468.1 733.4 471.0 732.4C473.9 731.5 478.1 730.2 479.5 729.7" fill="none" stroke="#1a1a1a" stroke-width="1.80" stroke-linejoin="round" stroke-linecap="round" />
<circle cx="107.0" cy="458.8" r="8.2" fill="none" stroke="#1a1a1a" stroke-width="1.15"/>
<text x="102.8" y="462.7" style="font-family:'Liberation Sans',sans-serif;font-size:10.80px;font-style:italic;font-weight:normal" fill="#1a1a1a" stroke="#1a1a1a" stroke-width="0.45" >A</text>
<circle cx="106.5" cy="544.8" r="8.2" fill="none" stroke="#1a1a1a" stroke-width="1.15"/>
<text x="102.3" y="548.7" style="font-family:'Liberation Sans',sans-serif;font-size:10.80px;font-style:italic;font-weight:normal" fill="#1a1a1a" stroke="#1a1a1a" stroke-width="0.45" >B</text>
<circle cx="107.5" cy="637.9" r="8.2" fill="none" stroke="#1a1a1a" stroke-width="1.15"/>
<text x="103.3" y="641.8" style="font-family:'Liberation Sans',sans-serif;font-size:10.80px;font-style:italic;font-weight:normal" fill="#1a1a1a" stroke="#1a1a1a" stroke-width="0.45" >C</text>
<circle cx="107.4" cy="735.2" r="8.2" fill="none" stroke="#1a1a1a" stroke-width="1.15"/>
<text x="103.2" y="739.1" style="font-family:'Liberation Sans',sans-serif;font-size:10.80px;font-style:italic;font-weight:normal" fill="#1a1a1a" stroke="#1a1a1a" stroke-width="0.45" >D</text>
<text x="119.4" y="472.6" style="font-family:'Liberation Sans',sans-serif;font-size:10.40px;font-style:italic;font-weight:normal" fill="#1a1a1a" stroke="#1a1a1a" stroke-width="0.40" >0</text>
<text x="120.0" y="577.0" style="font-family:'Liberation Sans',sans-serif;font-size:10.40px;font-style:italic;font-weight:normal" fill="#1a1a1a" stroke="#1a1a1a" stroke-width="0.40" >0</text>
<text x="119.4" y="662.6" style="font-family:'Liberation Sans',sans-serif;font-size:10.40px;font-style:italic;font-weight:normal" fill="#1a1a1a" stroke="#1a1a1a" stroke-width="0.40" >0</text>
<text x="119.3" y="756.2" style="font-family:'Liberation Sans',sans-serif;font-size:10.40px;font-style:italic;font-weight:normal" fill="#1a1a1a" stroke="#1a1a1a" stroke-width="0.40" >0</text>
<text x="117.8" y="798.2" style="font-family:'Liberation Sans',sans-serif;font-size:10.40px;font-style:italic;font-weight:normal" fill="#1a1a1a" stroke="#1a1a1a" stroke-width="0.40" >0</text>
<text x="140.5" y="433.2" style="font-family:'Liberation Sans',sans-serif;font-size:11.00px;font-style:italic;font-weight:normal" fill="#1a1a1a" stroke="#1a1a1a" stroke-width="0.30" >Δ</text>
<text x="153.0" y="433.8" style="font-family:'Liberation Sans',sans-serif;font-size:12.00px;font-weight:normal" fill="#1a1a1a" stroke="#1a1a1a" stroke-width="0.20" >[</text>
<text x="157.0" y="433.2" style="font-family:'Liberation Sans',sans-serif;font-size:10.30px;font-style:italic;font-weight:normal;letter-spacing:0.00px" fill="#1a1a1a" textLength="38.0" lengthAdjust="spacingAndGlyphs" stroke="#1a1a1a" stroke-width="0.50" >(1-a)Rg</text>
<text x="196.0" y="433.8" style="font-family:'Liberation Sans',sans-serif;font-size:12.00px;font-weight:normal" fill="#1a1a1a" stroke="#1a1a1a" stroke-width="0.20" >]</text>
<text x="141.9" y="520.4" style="font-family:'Liberation Sans',sans-serif;font-size:11.00px;font-style:italic;font-weight:normal" fill="#1a1a1a" stroke="#1a1a1a" stroke-width="0.30" >Δ</text>
<text x="154.0" y="520.4" style="font-family:'Liberation Sans',sans-serif;font-size:10.30px;font-style:italic;font-weight:normal;letter-spacing:0.00px" fill="#1a1a1a" textLength="13.2" lengthAdjust="spacingAndGlyphs" stroke="#1a1a1a" stroke-width="0.40" >Ra</text>
<text x="140.2" y="610.0" style="font-family:'Liberation Sans',sans-serif;font-size:11.00px;font-style:italic;font-weight:normal" fill="#1a1a1a" stroke="#1a1a1a" stroke-width="0.30" >Δ</text>
<text x="150.6" y="610.0" style="font-family:'Liberation Sans',sans-serif;font-size:10.30px;font-style:italic;font-weight:normal;letter-spacing:0.00px" fill="#1a1a1a" textLength="13.4" lengthAdjust="spacingAndGlyphs" stroke="#1a1a1a" stroke-width="0.40" >Rs</text>
<text x="141.3" y="704.0" style="font-family:'Liberation Sans',sans-serif;font-size:11.00px;font-style:italic;font-weight:normal" fill="#1a1a1a" stroke="#1a1a1a" stroke-width="0.30" >Δ</text>
<text x="152.0" y="704.0" style="font-family:'Liberation Sans',sans-serif;font-size:10.30px;font-style:italic;font-weight:normal;letter-spacing:0.00px" fill="#1a1a1a" textLength="13.2" lengthAdjust="spacingAndGlyphs" stroke="#1a1a1a" stroke-width="0.40" >Rn</text>
<text x="138.9" y="463.9" style="font-family:'Liberation Sans',sans-serif;font-size:8.60px;font-style:italic;font-weight:normal;letter-spacing:0.06px" fill="#1a1a1a" textLength="28.6" lengthAdjust="spacingAndGlyphs" stroke="#1a1a1a" stroke-width="0.42" >ombre</text>
<text x="424.8" y="456.5" style="font-family:'Liberation Sans',sans-serif;font-size:8.80px;font-style:italic;font-weight:normal;letter-spacing:0.38px" fill="#1a1a1a" textLength="42.6" lengthAdjust="spacingAndGlyphs" stroke="#1a1a1a" stroke-width="0.42" >réflexion</text>
<path d="M140.2 483.7h9.0" stroke="#fff" stroke-width="3.2" fill="none"/>
<line x1="141.4" y1="483.7" x2="148.0" y2="483.7" stroke="#1a1a1a" stroke-width="1.60" />
<path d="M464.6 467.6h8.8M469.0 463.2v8.8" stroke="#fff" stroke-width="4.2" fill="none" stroke-linecap="butt"/>
<line x1="465.6" y1="467.6" x2="472.4" y2="467.6" stroke="#1a1a1a" stroke-width="1.50" />
<line x1="469.0" y1="464.2" x2="469.0" y2="471.0" stroke="#1a1a1a" stroke-width="1.50" />
<path d="M143.3 562.6h8.8M147.7 558.2v8.8" stroke="#fff" stroke-width="4.2" fill="none" stroke-linecap="butt"/>
<line x1="144.3" y1="562.6" x2="151.1" y2="562.6" stroke="#1a1a1a" stroke-width="1.50" />
<line x1="147.7" y1="559.2" x2="147.7" y2="566.0" stroke="#1a1a1a" stroke-width="1.50" />
<path d="M457.1 567.1h8.8M461.5 562.7v8.8" stroke="#fff" stroke-width="4.2" fill="none" stroke-linecap="butt"/>
<line x1="458.1" y1="567.1" x2="464.9" y2="567.1" stroke="#1a1a1a" stroke-width="1.50" />
<line x1="461.5" y1="563.7" x2="461.5" y2="570.5" stroke="#1a1a1a" stroke-width="1.50" />
<path d="M179.5 651.0h8.8M183.9 646.6v8.8" stroke="#fff" stroke-width="4.2" fill="none" stroke-linecap="butt"/>
<line x1="180.5" y1="651.0" x2="187.3" y2="651.0" stroke="#1a1a1a" stroke-width="1.50" />
<line x1="183.9" y1="647.6" x2="183.9" y2="654.4" stroke="#1a1a1a" stroke-width="1.50" />
<path d="M365.0 665.6h9.0" stroke="#fff" stroke-width="3.2" fill="none"/>
<line x1="366.2" y1="665.6" x2="372.8" y2="665.6" stroke="#1a1a1a" stroke-width="1.60" />
<path d="M457.7 653.7h8.8M462.1 649.3v8.8" stroke="#fff" stroke-width="4.2" fill="none" stroke-linecap="butt"/>
<line x1="458.7" y1="653.7" x2="465.5" y2="653.7" stroke="#1a1a1a" stroke-width="1.50" />
<line x1="462.1" y1="650.3" x2="462.1" y2="657.1" stroke="#1a1a1a" stroke-width="1.50" />
<path d="M135.4 761.5h9.0" stroke="#fff" stroke-width="3.2" fill="none"/>
<line x1="136.6" y1="761.5" x2="143.2" y2="761.5" stroke="#1a1a1a" stroke-width="1.60" />
<path d="M175.2 745.9h8.8M179.6 741.5v8.8" stroke="#fff" stroke-width="4.2" fill="none" stroke-linecap="butt"/>
<line x1="176.2" y1="745.9" x2="183.0" y2="745.9" stroke="#1a1a1a" stroke-width="1.50" />
<line x1="179.6" y1="742.5" x2="179.6" y2="749.3" stroke="#1a1a1a" stroke-width="1.50" />
<path d="M300.8 758.3h9.0" stroke="#fff" stroke-width="3.2" fill="none"/>
<line x1="302.0" y1="758.3" x2="308.6" y2="758.3" stroke="#1a1a1a" stroke-width="1.60" />
<path d="M457.6 747.5h8.8M462.0 743.1v8.8" stroke="#fff" stroke-width="4.2" fill="none" stroke-linecap="butt"/>
<line x1="458.6" y1="747.5" x2="465.4" y2="747.5" stroke="#1a1a1a" stroke-width="1.50" />
<line x1="462.0" y1="744.1" x2="462.0" y2="750.9" stroke="#1a1a1a" stroke-width="1.50" />
<text x="504.0" y="456.4" style="font-family:'Liberation Sans',sans-serif;font-size:8.90px;font-style:italic;font-weight:normal;letter-spacing:0.00px" fill="#1a1a1a" textLength="61.6" lengthAdjust="spacingAndGlyphs" stroke="#1a1a1a" stroke-width="0.42" >Rayonnement</text>
<text x="505.2" y="468.4" style="font-family:'Liberation Sans',sans-serif;font-size:8.90px;font-style:italic;font-weight:normal;letter-spacing:0.14px" fill="#1a1a1a" textLength="29.8" lengthAdjust="spacingAndGlyphs" stroke="#1a1a1a" stroke-width="0.42" >visible</text>
<text x="493.0" y="550.4" style="font-family:'Liberation Sans',sans-serif;font-size:8.90px;font-style:italic;font-weight:normal;letter-spacing:0.05px" fill="#1a1a1a" textLength="36.0" lengthAdjust="spacingAndGlyphs" stroke="#1a1a1a" stroke-width="0.42" >Apports</text>
<text x="536.0" y="550.4" style="font-family:'Liberation Sans',sans-serif;font-size:8.90px;font-style:italic;font-weight:normal;letter-spacing:0.37px" fill="#1a1a1a" textLength="40.0" lengthAdjust="spacingAndGlyphs" stroke="#1a1a1a" stroke-width="0.42" >radiatifs</text>
<text x="493.0" y="562.8" style="font-family:'Liberation Sans',sans-serif;font-size:8.90px;font-style:italic;font-weight:normal;letter-spacing:0.00px" fill="#1a1a1a" textLength="15.0" lengthAdjust="spacingAndGlyphs" stroke="#1a1a1a" stroke-width="0.42" >des</text>
<text x="523.0" y="562.8" style="font-family:'Liberation Sans',sans-serif;font-size:8.90px;font-style:italic;font-weight:normal;letter-spacing:0.14px" fill="#1a1a1a" textLength="25.5" lengthAdjust="spacingAndGlyphs" stroke="#1a1a1a" stroke-width="0.42" >haies</text>
<text x="493.0" y="636.6" style="font-family:'Liberation Sans',sans-serif;font-size:8.90px;font-style:italic;font-weight:normal;letter-spacing:0.10px" fill="#1a1a1a" textLength="65.6" lengthAdjust="spacingAndGlyphs" stroke="#1a1a1a" stroke-width="0.42" >Rayonnement</text>
<text x="493.0" y="648.5" style="font-family:'Liberation Sans',sans-serif;font-size:8.90px;font-style:italic;font-weight:normal;letter-spacing:0.00px" fill="#1a1a1a" textLength="20.0" lengthAdjust="spacingAndGlyphs" stroke="#1a1a1a" stroke-width="0.42" >émis</text>
<text x="519.0" y="648.5" style="font-family:'Liberation Sans',sans-serif;font-size:8.90px;font-style:italic;font-weight:normal;letter-spacing:0.00px" fill="#1a1a1a" textLength="14.0" lengthAdjust="spacingAndGlyphs" stroke="#1a1a1a" stroke-width="0.42" >par</text>
<text x="539.5" y="648.5" style="font-family:'Liberation Sans',sans-serif;font-size:8.90px;font-style:italic;font-weight:normal;letter-spacing:0.00px" fill="#1a1a1a" textLength="8.0" lengthAdjust="spacingAndGlyphs" stroke="#1a1a1a" stroke-width="0.42" >le</text>
<text x="556.0" y="648.5" style="font-family:'Liberation Sans',sans-serif;font-size:8.90px;font-style:italic;font-weight:normal;letter-spacing:0.72px" fill="#1a1a1a" textLength="15.7" lengthAdjust="spacingAndGlyphs" stroke="#1a1a1a" stroke-width="0.42" >sol</text>
<text x="490.6" y="746.2" style="font-family:'Liberation Sans',sans-serif;font-size:8.90px;font-style:italic;font-weight:normal;letter-spacing:0.01px" fill="#1a1a1a" textLength="23.0" lengthAdjust="spacingAndGlyphs" stroke="#1a1a1a" stroke-width="0.42" >Bilan</text>
<text x="520.0" y="746.2" style="font-family:'Liberation Sans',sans-serif;font-size:8.90px;font-style:italic;font-weight:normal;letter-spacing:0.97px" fill="#1a1a1a" textLength="40.0" lengthAdjust="spacingAndGlyphs" stroke="#1a1a1a" stroke-width="0.42" >radiatif</text>
<text x="489.8" y="788.0" style="font-family:'Liberation Sans',sans-serif;font-size:10.00px;font-style:italic;font-weight:normal;letter-spacing:0.65px" fill="#1a1a1a" textLength="21.6" lengthAdjust="spacingAndGlyphs" stroke="#1a1a1a" stroke-width="0.42" >X/H</text>
<text x="127.7" y="811.3" style="font-family:'Liberation Sans',sans-serif;font-size:9.60px;font-style:italic;font-weight:normal" fill="#1a1a1a" stroke="#1a1a1a" stroke-width="0.40" >0</text>
<text x="163.2" y="811.5" style="font-family:'Liberation Sans',sans-serif;font-size:9.60px;font-style:italic;font-weight:normal" fill="#1a1a1a" stroke="#1a1a1a" stroke-width="0.40" >1</text>
<text x="197.2" y="811.7" style="font-family:'Liberation Sans',sans-serif;font-size:9.60px;font-style:italic;font-weight:normal" fill="#1a1a1a" stroke="#1a1a1a" stroke-width="0.40" >2</text>
<text x="231.2" y="811.9" style="font-family:'Liberation Sans',sans-serif;font-size:9.60px;font-style:italic;font-weight:normal" fill="#1a1a1a" stroke="#1a1a1a" stroke-width="0.40" >3</text>
<text x="265.8" y="812.1" style="font-family:'Liberation Sans',sans-serif;font-size:9.60px;font-style:italic;font-weight:normal" fill="#1a1a1a" stroke="#1a1a1a" stroke-width="0.40" >4</text>
<text x="300.8" y="812.3" style="font-family:'Liberation Sans',sans-serif;font-size:9.60px;font-style:italic;font-weight:normal" fill="#1a1a1a" stroke="#1a1a1a" stroke-width="0.40" >5</text>
<text x="335.8" y="812.5" style="font-family:'Liberation Sans',sans-serif;font-size:9.60px;font-style:italic;font-weight:normal" fill="#1a1a1a" stroke="#1a1a1a" stroke-width="0.40" >6</text>
<text x="370.5" y="812.7" style="font-family:'Liberation Sans',sans-serif;font-size:9.60px;font-style:italic;font-weight:normal" fill="#1a1a1a" stroke="#1a1a1a" stroke-width="0.40" >7</text>
<text x="406.4" y="812.9" style="font-family:'Liberation Sans',sans-serif;font-size:9.60px;font-style:italic;font-weight:normal" fill="#1a1a1a" stroke="#1a1a1a" stroke-width="0.40" >8</text>
<text x="441.9" y="813.1" style="font-family:'Liberation Sans',sans-serif;font-size:9.60px;font-style:italic;font-weight:normal" fill="#1a1a1a" stroke="#1a1a1a" stroke-width="0.40" >9</text>
<text x="474.7" y="813.3" style="font-family:'Liberation Sans',sans-serif;font-size:9.60px;font-style:italic;font-weight:normal" fill="#1a1a1a" stroke="#1a1a1a" stroke-width="0.40" >10</text>
<g transform="rotate(0.5 143 830.7)">
<text x="43.6" y="830.7" style="font-family:'Liberation Mono',sans-serif;font-size:11.30px;font-weight:normal" fill="#1a1a1a" textLength="473.2" lengthAdjust="spacing" stroke="#1a1a1a" stroke-width="0.50" >Figure 5.9. - Représentation des effets des brise-vent sur le bilan</text>
<line x1="44.2" y1="833.9" x2="114.8" y2="833.9" stroke="#1a1a1a" stroke-width="1.20" />
</g>
<g transform="rotate(0.48 143 845.2)">
<text x="142.6" y="845.2" style="font-family:'Liberation Mono',sans-serif;font-size:11.30px;font-weight:normal" fill="#1a1a1a" textLength="374.2" lengthAdjust="spacing" stroke="#1a1a1a" stroke-width="0.50" >radiatif au cours d'une belle journée.  Différence de</text>
</g>
<g transform="rotate(0.46 143 859.4)">
<text x="142.6" y="859.4" style="font-family:'Liberation Mono',sans-serif;font-size:11.30px;font-weight:normal" fill="#1a1a1a" textLength="395.4" lengthAdjust="spacing" stroke="#1a1a1a" stroke-width="0.50" >rayonnement net entre la parcelle entourée de brise-vent</text>
</g>
<g transform="rotate(0.42 143 873.1)">
<text x="142.6" y="873.1" style="font-family:'Liberation Mono',sans-serif;font-size:11.30px;font-weight:normal" fill="#1a1a1a" textLength="239.8" lengthAdjust="spacing" stroke="#1a1a1a" stroke-width="0.50" >et une zone ouverte est donnée par</text>
<text x="390.0" y="872.4" style="font-family:'Liberation Sans',sans-serif;font-size:8.50px;font-weight:normal" fill="#1a1a1a" stroke="#1a1a1a" stroke-width="0.30" >Δ</text>
<text x="396.0" y="873.1" style="font-family:'Liberation Mono',sans-serif;font-size:10.50px;font-weight:normal" fill="#1a1a1a" textLength="13.0" lengthAdjust="spacing" stroke="#1a1a1a" stroke-width="0.30" >RN</text>
<text x="417.6" y="873.1" style="font-family:'Liberation Mono',sans-serif;font-size:11.30px;font-weight:normal" fill="#1a1a1a" textLength="6.3" lengthAdjust="spacing" stroke="#1a1a1a" stroke-width="0.50" >=</text>
<text x="431.3" y="873.1" style="font-family:'Liberation Sans',sans-serif;font-size:12.00px;font-weight:normal" fill="#1a1a1a" stroke="#1a1a1a" stroke-width="0.30" >Δ</text>
<text x="440.3" y="873.6" style="font-family:'Liberation Sans',sans-serif;font-size:12.50px;font-weight:normal" fill="#1a1a1a" stroke="#1a1a1a" stroke-width="0.30" >(</text>
<text x="445.0" y="873.1" style="font-family:'Liberation Sans',sans-serif;font-size:11.50px;font-weight:normal" fill="#1a1a1a" stroke="#1a1a1a" stroke-width="0.50" >1</text>
<line x1="453.6" y1="875.6" x2="459.0" y2="875.6" stroke="#1a1a1a" stroke-width="1.40" />
<text x="459.6" y="876.1" style="font-family:'Liberation Mono',sans-serif;font-size:10.50px;font-weight:normal" fill="#1a1a1a" stroke="#1a1a1a" stroke-width="0.30" >a</text>
<text x="467.2" y="873.6" style="font-family:'Liberation Sans',sans-serif;font-size:12.50px;font-weight:normal" fill="#1a1a1a" stroke="#1a1a1a" stroke-width="0.30" >)</text>
<text x="481.5" y="873.1" style="font-family:'Liberation Mono',sans-serif;font-size:11.30px;font-weight:normal" fill="#1a1a1a" textLength="6.3" lengthAdjust="spacing" stroke="#1a1a1a" stroke-width="0.50" >G</text>
<text x="495.3" y="873.1" style="font-family:'Liberation Mono',sans-serif;font-size:11.30px;font-weight:normal" fill="#1a1a1a" textLength="6.3" lengthAdjust="spacing" stroke="#1a1a1a" stroke-width="0.50" >+</text>
<text x="508.5" y="872.6" style="font-family:'Liberation Sans',sans-serif;font-size:9.50px;font-weight:normal" fill="#1a1a1a" stroke="#1a1a1a" stroke-width="0.30" >Δ</text>
<text x="515.6" y="873.1" style="font-family:'Liberation Mono',sans-serif;font-size:11.20px;font-weight:normal" fill="#1a1a1a" textLength="13.4" lengthAdjust="spacing" stroke="#1a1a1a" stroke-width="0.30" >Ra</text>
<line x1="538.3" y1="871.5" x2="544.8" y2="871.5" stroke="#1a1a1a" stroke-width="1.50" />
<text x="551.8" y="872.6" style="font-family:'Liberation Sans',sans-serif;font-size:9.50px;font-weight:normal" fill="#1a1a1a" stroke="#1a1a1a" stroke-width="0.30" >Δ</text>
<text x="559.0" y="873.1" style="font-family:'Liberation Mono',sans-serif;font-size:11.20px;font-weight:normal" fill="#1a1a1a" stroke="#1a1a1a" stroke-width="0.30" >R</text>
<text x="566.0" y="874.1" style="font-family:'Liberation Mono',sans-serif;font-size:11.20px;font-weight:normal" fill="#1a1a1a" stroke="#1a1a1a" stroke-width="0.30" >s</text>
</g>
</g>
</svg>
</body></html>
